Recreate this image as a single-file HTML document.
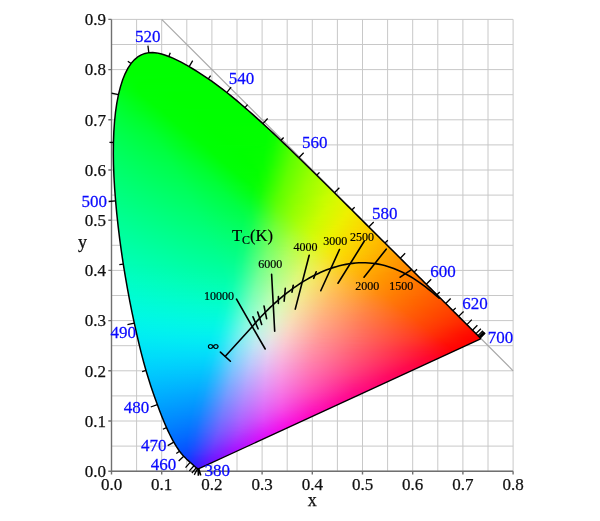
<!DOCTYPE html><html><head><meta charset="utf-8"><style>
*{margin:0;padding:0}
svg,#c{will-change:transform}
html,body{width:600px;height:521px;overflow:hidden;background:#fff}
#c{position:absolute;left:0;top:0;width:600px;height:521px;clip-path:path('M198.9 468.71 L198.89 468.71 L198.88 468.7 L198.88 468.7 L198.87 468.7 L198.85 468.7 L198.83 468.71 L198.81 468.72 L198.79 468.73 L198.77 468.73 L198.75 468.73 L198.72 468.73 L198.7 468.72 L198.67 468.72 L198.65 468.72 L198.63 468.73 L198.6 468.74 L198.58 468.76 L198.56 468.77 L198.54 468.78 L198.52 468.79 L198.49 468.8 L198.47 468.8 L198.43 468.8 L198.4 468.8 L198.36 468.8 L198.31 468.8 L198.27 468.8 L198.22 468.79 L198.18 468.79 L198.13 468.79 L198.09 468.79 L198.04 468.79 L197.99 468.79 L197.94 468.78 L197.89 468.77 L197.84 468.76 L197.78 468.75 L197.71 468.72 L197.64 468.68 L197.55 468.64 L197.45 468.58 L197.34 468.52 L197.23 468.45 L197.11 468.38 L196.99 468.29 L196.87 468.2 L196.73 468.1 L196.59 467.99 L196.44 467.87 L196.28 467.74 L196.1 467.59 L195.91 467.44 L195.71 467.27 L195.5 467.1 L195.28 466.91 L195.06 466.7 L194.82 466.48 L194.57 466.25 L194.31 466 L194.03 465.75 L193.74 465.48 L193.43 465.21 L193.1 464.91 L192.75 464.61 L192.37 464.28 L191.98 463.93 L191.55 463.55 L191.1 463.16 L190.63 462.75 L190.13 462.31 L189.61 461.86 L189.07 461.38 L188.51 460.88 L187.91 460.35 L187.29 459.78 L186.64 459.18 L185.97 458.53 L185.26 457.83 L184.53 457.08 L183.77 456.29 L182.99 455.44 L182.18 454.53 L181.34 453.53 L180.46 452.42 L179.52 451.18 L178.52 449.77 L177.45 448.17 L176.3 446.38 L175.08 444.38 L173.81 442.18 L172.48 439.78 L171.09 437.15 L169.64 434.26 L168.11 431.09 L166.52 427.61 L164.84 423.77 L163.09 419.56 L161.26 414.97 L159.34 409.98 L157.33 404.58 L155.22 398.75 L153.01 392.45 L150.71 385.65 L148.37 378.31 L145.99 370.44 L143.62 362.03 L141.28 353.1 L138.94 343.64 L136.62 333.65 L134.29 323.12 L131.96 312.08 L129.67 300.57 L127.44 288.67 L125.3 276.46 L123.28 264.02 L121.39 251.45 L119.67 238.8 L118.12 226.12 L116.76 213.47 L115.6 200.91 L114.65 188.54 L113.95 176.47 L113.5 164.76 L113.33 153.43 L113.44 142.48 L113.83 131.9 L114.52 121.75 L115.51 112.1 L116.82 103.03 L118.46 94.61 L120.42 86.86 L122.67 79.83 L125.19 73.56 L127.98 68.13 L131 63.57 L134.25 59.87 L137.69 56.97 L141.28 54.83 L144.99 53.4 L148.8 52.63 L152.69 52.49 L156.65 52.89 L160.67 53.74 L164.72 54.95 L168.81 56.44 L172.92 58.17 L177.03 60.1 L181.13 62.18 L185.18 64.38 L189.17 66.66 L193.09 68.98 L196.96 71.35 L200.78 73.77 L204.57 76.26 L208.32 78.82 L212.06 81.45 L215.76 84.13 L219.44 86.87 L223.11 89.67 L226.77 92.53 L230.42 95.44 L234.05 98.41 L237.68 101.42 L241.31 104.49 L244.92 107.59 L248.52 110.73 L252.12 113.91 L255.72 117.13 L259.31 120.38 L262.91 123.66 L266.5 126.97 L270.09 130.31 L273.68 133.67 L277.27 137.05 L280.86 140.46 L284.45 143.88 L288.04 147.32 L291.62 150.78 L295.21 154.25 L298.8 157.73 L302.38 161.21 L305.96 164.71 L309.54 168.21 L313.12 171.71 L316.69 175.22 L320.25 178.73 L323.81 182.23 L327.35 185.74 L330.89 189.24 L334.42 192.73 L337.93 196.22 L341.44 199.7 L344.92 203.17 L348.39 206.62 L351.84 210.06 L355.28 213.48 L358.69 216.88 L362.07 220.26 L365.43 223.61 L368.77 226.93 L372.07 230.23 L375.35 233.49 L378.6 236.72 L381.81 239.92 L384.98 243.07 L388.12 246.19 L391.21 249.27 L394.26 252.3 L397.27 255.29 L400.23 258.24 L403.14 261.14 L406 264 L408.8 266.79 L411.52 269.52 L414.17 272.16 L416.73 274.71 L419.21 277.18 L421.62 279.58 L423.97 281.92 L426.27 284.21 L428.52 286.45 L430.72 288.64 L432.86 290.77 L434.93 292.82 L436.91 294.8 L438.82 296.69 L440.65 298.5 L442.4 300.24 L444.09 301.92 L445.71 303.53 L447.27 305.08 L448.77 306.57 L450.21 308 L451.58 309.37 L452.9 310.69 L454.16 311.94 L455.36 313.14 L456.5 314.28 L457.59 315.37 L458.63 316.41 L459.63 317.4 L460.59 318.35 L461.5 319.26 L462.37 320.12 L463.2 320.95 L464 321.74 L464.76 322.5 L465.49 323.23 L466.19 323.93 L466.87 324.6 L467.53 325.26 L468.17 325.89 L468.79 326.51 L469.38 327.1 L469.94 327.66 L470.49 328.21 L471.01 328.73 L471.51 329.23 L471.99 329.71 L472.45 330.17 L472.9 330.61 L473.32 331.03 L473.72 331.43 L474.1 331.81 L474.46 332.17 L474.8 332.51 L475.11 332.82 L475.41 333.11 L475.68 333.39 L475.95 333.65 L476.2 333.9 L476.44 334.14 L476.67 334.37 L476.89 334.59 L477.09 334.79 L477.29 334.99 L477.47 335.17 L477.64 335.34 L477.8 335.5 L477.94 335.64 L478.08 335.78 L478.2 335.9 L478.31 336.01 L478.41 336.11 L478.51 336.21 L478.6 336.3 L478.7 336.4 L478.79 336.49 L478.88 336.58 L478.96 336.66 L479.04 336.74 L479.11 336.81 L479.19 336.89 L479.26 336.96 L479.32 337.02 L479.4 337.1 L479.47 337.17 L479.54 337.24 L479.61 337.31 L479.68 337.38 L479.74 337.44 L479.81 337.51 L479.87 337.57 L479.94 337.64 L479.99 337.69 L480.04 337.74 L480.08 337.78 L480.11 337.81 L480.14 337.84 L480.16 337.86 L480.19 337.89 L480.21 337.91 L480.23 337.93 L480.25 337.95 L480.27 337.97 L480.28 337.98 L480.29 337.99 L480.31 338.01 L480.31 338.01 L480.6 338.9 Z')}
#c i{position:absolute;height:1px;display:block}
svg{position:absolute;left:0;top:0}
.g line{stroke:#c8c8c8;stroke-width:1}
.d{stroke:#a8a8a8;stroke-width:1.2}
.sl{fill:none;stroke:#000;stroke-width:1.5;stroke-linejoin:round}
.pu{stroke-width:1.3}
.tk{fill:none;stroke:#000;stroke-width:1.3}
.pl{fill:none;stroke:#000;stroke-width:1.6;stroke-linecap:round}
text{font-family:'Liberation Serif',serif}
.ax{font-size:17px;fill:#111;stroke:#111;stroke-width:0.25}
.lab{font-size:18px}
.wl{font-size:17.7px;fill:#0a0aff;stroke:#0a0aff;stroke-width:0.25}
.il{font-size:12px;fill:#000;stroke:#000;stroke-width:0.2}
.tc{font-size:16.5px;fill:#000;stroke:#000;stroke-width:0.2}
.sub{font-size:12px}
.inf{font-size:15px;fill:#000;stroke:#000;stroke-width:0.5}
.axl{stroke:#707070;stroke-width:1.4;fill:none}
</style></head><body>
<svg width="600" height="521"><g class="g"><line x1="111.5" y1="19.4" x2="111.5" y2="471.2"/><line x1="136.6" y1="19.4" x2="136.6" y2="471.2"/><line x1="161.7" y1="19.4" x2="161.7" y2="471.2"/><line x1="186.8" y1="19.4" x2="186.8" y2="471.2"/><line x1="211.9" y1="19.4" x2="211.9" y2="471.2"/><line x1="237" y1="19.4" x2="237" y2="471.2"/><line x1="262.1" y1="19.4" x2="262.1" y2="471.2"/><line x1="287.2" y1="19.4" x2="287.2" y2="471.2"/><line x1="312.3" y1="19.4" x2="312.3" y2="471.2"/><line x1="337.4" y1="19.4" x2="337.4" y2="471.2"/><line x1="362.5" y1="19.4" x2="362.5" y2="471.2"/><line x1="387.6" y1="19.4" x2="387.6" y2="471.2"/><line x1="412.7" y1="19.4" x2="412.7" y2="471.2"/><line x1="437.8" y1="19.4" x2="437.8" y2="471.2"/><line x1="462.9" y1="19.4" x2="462.9" y2="471.2"/><line x1="488" y1="19.4" x2="488" y2="471.2"/><line x1="513.1" y1="19.4" x2="513.1" y2="471.2"/><line x1="111.5" y1="471.2" x2="513.1" y2="471.2"/><line x1="111.5" y1="446.1" x2="513.1" y2="446.1"/><line x1="111.5" y1="421" x2="513.1" y2="421"/><line x1="111.5" y1="395.9" x2="513.1" y2="395.9"/><line x1="111.5" y1="370.8" x2="513.1" y2="370.8"/><line x1="111.5" y1="345.7" x2="513.1" y2="345.7"/><line x1="111.5" y1="320.6" x2="513.1" y2="320.6"/><line x1="111.5" y1="295.5" x2="513.1" y2="295.5"/><line x1="111.5" y1="270.4" x2="513.1" y2="270.4"/><line x1="111.5" y1="245.3" x2="513.1" y2="245.3"/><line x1="111.5" y1="220.2" x2="513.1" y2="220.2"/><line x1="111.5" y1="195.1" x2="513.1" y2="195.1"/><line x1="111.5" y1="170" x2="513.1" y2="170"/><line x1="111.5" y1="144.9" x2="513.1" y2="144.9"/><line x1="111.5" y1="119.8" x2="513.1" y2="119.8"/><line x1="111.5" y1="94.7" x2="513.1" y2="94.7"/><line x1="111.5" y1="69.6" x2="513.1" y2="69.6"/><line x1="111.5" y1="44.5" x2="513.1" y2="44.5"/><line x1="111.5" y1="19.4" x2="513.1" y2="19.4"/></g><g class="d"><line x1="161.7" y1="19.4" x2="513.1" y2="370.8"/></g><path class="axl" d="M111.5 19.4L111.5 471.2M111.5 471.2L513.1 471.2M111.5 471.2h-3.2M111.5 421h-3.2M111.5 370.8h-3.2M111.5 320.6h-3.2M111.5 270.4h-3.2M111.5 220.2h-3.2M111.5 170h-3.2M111.5 119.8h-3.2M111.5 69.6h-3.2M111.5 19.4h-3.2M111.5 471.2v3.2M161.7 471.2v3.2M211.9 471.2v3.2M262.1 471.2v3.2M312.3 471.2v3.2M362.5 471.2v3.2M412.7 471.2v3.2M462.9 471.2v3.2M513.1 471.2v3.2"/></svg>
<div id="c"><i style="top:52px;left:151px;width:4px;background:linear-gradient(90deg,#00ff00 0.5px,#00ff00 3.5px)"></i><i style="top:53px;left:143px;width:19px;background:linear-gradient(90deg,#00ff00 0.5px,#00ff00 18.5px)"></i><i style="top:54px;left:141px;width:25px;background:linear-gradient(90deg,#00ff00 0.5px,#00ff00 24.5px)"></i><i style="top:55px;left:139px;width:30px;background:linear-gradient(90deg,#00ff00 0.5px,#00ff00 29.5px)"></i><i style="top:56px;left:137px;width:34px;background:linear-gradient(90deg,#00ff00 0.5px,#00ff00 33.5px)"></i><i style="top:57px;left:136px;width:38px;background:linear-gradient(90deg,#00ff00 0.5px,#00ff00 37.5px)"></i><i style="top:58px;left:134px;width:42px;background:linear-gradient(90deg,#00ff00 0.5px,#00ff00 41.5px)"></i><i style="top:59px;left:133px;width:45px;background:linear-gradient(90deg,#00ff00 0.5px,#00ff00 44.5px)"></i><i style="top:60px;left:132px;width:48px;background:linear-gradient(90deg,#00ff00 0.5px,#00ff00 47.5px)"></i><i style="top:61px;left:131px;width:51px;background:linear-gradient(90deg,#00ff00 0.5px,#00ff00 50.5px)"></i><i style="top:62px;left:130px;width:54px;background:linear-gradient(90deg,#00ff00 0.5px,#00ff00 53.5px)"></i><i style="top:63px;left:130px;width:56px;background:linear-gradient(90deg,#00ff00 0.5px,#00ff00 55.5px)"></i><i style="top:64px;left:129px;width:59px;background:linear-gradient(90deg,#00ff00 0.5px,#00ff00 58.5px)"></i><i style="top:65px;left:128px;width:62px;background:linear-gradient(90deg,#00ff00 0.5px,#00ff00 61.5px)"></i><i style="top:66px;left:128px;width:63px;background:linear-gradient(90deg,#00ff00 0.5px,#00ff00 62.5px)"></i><i style="top:67px;left:127px;width:66px;background:linear-gradient(90deg,#00ff00 0.5px,#00ff00 65.5px)"></i><i style="top:68px;left:126px;width:69px;background:linear-gradient(90deg,#00ff00 0.5px,#00ff00 68.5px)"></i><i style="top:69px;left:126px;width:70px;background:linear-gradient(90deg,#00ff00 0.5px,#00ff00 69.5px)"></i><i style="top:70px;left:125px;width:73px;background:linear-gradient(90deg,#00ff01 0.5px,#00ff00 72.5px)"></i><i style="top:71px;left:125px;width:75px;background:linear-gradient(90deg,#00ff01 0.5px,#00ff00 74.5px)"></i><i style="top:72px;left:124px;width:77px;background:linear-gradient(90deg,#00ff01 0.5px,#00ff00 76.5px)"></i><i style="top:73px;left:124px;width:79px;background:linear-gradient(90deg,#00ff01 0.5px,#00ff00 78.5px)"></i><i style="top:74px;left:123px;width:81px;background:linear-gradient(90deg,#00ff02 0.5px,#00ff00 80.5px)"></i><i style="top:75px;left:123px;width:83px;background:linear-gradient(90deg,#00ff02 0.5px,#00ff00 82.5px)"></i><i style="top:76px;left:123px;width:84px;background:linear-gradient(90deg,#00ff03 0.5px,#00ff00 83.5px)"></i><i style="top:77px;left:122px;width:87px;background:linear-gradient(90deg,#00ff04 0.5px,#00ff00 52.5px,#00ff00 86.5px)"></i><i style="top:78px;left:122px;width:88px;background:linear-gradient(90deg,#00ff05 0.5px,#00ff00 39.5px,#00ff00 87.5px)"></i><i style="top:79px;left:121px;width:91px;background:linear-gradient(90deg,#00ff06 0.5px,#00ff00 29.5px,#00ff00 90.5px)"></i><i style="top:80px;left:121px;width:92px;background:linear-gradient(90deg,#00ff07 0.5px,#00ff00 26.5px,#00ff00 91.5px)"></i><i style="top:81px;left:121px;width:94px;background:linear-gradient(90deg,#00ff08 0.5px,#00ff00 24.5px,#00ff00 93.5px)"></i><i style="top:82px;left:120px;width:96px;background:linear-gradient(90deg,#00ff0a 0.5px,#00ff00 21.5px,#00ff00 95.5px)"></i><i style="top:83px;left:120px;width:97px;background:linear-gradient(90deg,#00ff0b 0.5px,#00ff01 20.5px,#00ff00 96.5px)"></i><i style="top:84px;left:120px;width:99px;background:linear-gradient(90deg,#00ff0d 0.5px,#00ff01 20.5px,#00ff00 98.5px)"></i><i style="top:85px;left:119px;width:101px;background:linear-gradient(90deg,#00ff0f 0.5px,#00ff02 19.5px,#00ff00 100.5px)"></i><i style="top:86px;left:119px;width:102px;background:linear-gradient(90deg,#00ff11 0.5px,#00ff02 19.5px,#00ff00 101.5px)"></i><i style="top:87px;left:119px;width:104px;background:linear-gradient(90deg,#00ff12 0.5px,#00ff02 19.5px,#00ff00 103.5px)"></i><i style="top:88px;left:119px;width:105px;background:linear-gradient(90deg,#00ff14 0.5px,#00ff02 20.5px,#00ff00 104.5px)"></i><i style="top:89px;left:118px;width:107px;background:linear-gradient(90deg,#00ff17 0.5px,#00ff03 20.5px,#00ff00 97.5px,#00ff00 106.5px)"></i><i style="top:90px;left:118px;width:109px;background:linear-gradient(90deg,#00ff18 0.5px,#00ff04 21.5px,#00ff00 90.5px,#00ff00 108.5px)"></i><i style="top:91px;left:118px;width:110px;background:linear-gradient(90deg,#00ff1a 0.5px,#00ff04 21.5px,#00ff00 68.5px,#00ff00 109.5px)"></i><i style="top:92px;left:117px;width:112px;background:linear-gradient(90deg,#00ff1d 0.5px,#00ff05 22.5px,#00ff00 58.5px,#00ff00 111.5px)"></i><i style="top:93px;left:117px;width:113px;background:linear-gradient(90deg,#00ff1f 0.5px,#00ff05 23.5px,#00ff00 58.5px,#00ff00 112.5px)"></i><i style="top:94px;left:117px;width:115px;background:linear-gradient(90deg,#00ff20 0.5px,#00ff05 24.5px,#00ff00 57.5px,#00ff00 114.5px)"></i><i style="top:95px;left:117px;width:116px;background:linear-gradient(90deg,#00ff22 0.5px,#00ff05 25.5px,#00ff00 57.5px,#00ff00 115.5px)"></i><i style="top:96px;left:117px;width:117px;background:linear-gradient(90deg,#00ff24 0.5px,#00ff05 26.5px,#00ff00 57.5px,#00ff00 116.5px)"></i><i style="top:97px;left:116px;width:119px;background:linear-gradient(90deg,#00ff26 0.5px,#00ff06 28.5px,#00ff00 58.5px,#00ff00 118.5px)"></i><i style="top:98px;left:116px;width:121px;background:linear-gradient(90deg,#00ff28 0.5px,#00ff06 29.5px,#00ff00 59.5px,#00ff00 120.5px)"></i><i style="top:99px;left:116px;width:122px;background:linear-gradient(90deg,#00ff2a 0.5px,#00ff05 31.5px,#00ff00 63.5px,#00ff00 121.5px)"></i><i style="top:100px;left:116px;width:123px;background:linear-gradient(90deg,#00ff2b 0.5px,#00ff05 32.5px,#00ff00 63.5px,#00ff00 122.5px)"></i><i style="top:101px;left:116px;width:124px;background:linear-gradient(90deg,#00ff2c 0.5px,#00ff06 33.5px,#00ff00 63.5px,#00ff00 123.5px)"></i><i style="top:102px;left:115px;width:126px;background:linear-gradient(90deg,#00ff2f 0.5px,#00ff05 36.5px,#00ff00 70.5px,#00ff00 125.5px)"></i><i style="top:103px;left:115px;width:128px;background:linear-gradient(90deg,#00ff30 0.5px,#00ff05 37.5px,#00ff00 69.5px,#00ff00 127.5px)"></i><i style="top:104px;left:115px;width:129px;background:linear-gradient(90deg,#00ff31 0.5px,#00ff05 38.5px,#00ff00 69.5px,#00ff00 128.5px)"></i><i style="top:105px;left:115px;width:130px;background:linear-gradient(90deg,#00ff33 0.5px,#00ff05 40.5px,#00ff00 75.5px,#00ff00 129.5px)"></i><i style="top:106px;left:115px;width:131px;background:linear-gradient(90deg,#00ff34 0.5px,#00ff05 41.5px,#00ff00 75.5px,#00ff00 130.5px)"></i><i style="top:107px;left:115px;width:132px;background:linear-gradient(90deg,#00ff35 0.5px,#00ff05 42.5px,#00ff00 74.5px,#00ff00 131.5px)"></i><i style="top:108px;left:115px;width:133px;background:linear-gradient(90deg,#00ff36 0.5px,#00ff05 44.5px,#00ff00 80.5px,#00ff00 132.5px)"></i><i style="top:109px;left:114px;width:136px;background:linear-gradient(90deg,#00ff38 0.5px,#00ff17 29.5px,#00ff03 49.5px,#00ff00 131.5px,#00ff00 135.5px)"></i><i style="top:110px;left:114px;width:137px;background:linear-gradient(90deg,#00ff3a 0.5px,#00ff19 29.5px,#00ff04 49.5px,#00ff00 100.5px,#00ff00 136.5px)"></i><i style="top:111px;left:114px;width:138px;background:linear-gradient(90deg,#00ff3b 0.5px,#00ff1c 28.5px,#00ff05 49.5px,#00ff00 87.5px,#00ff00 137.5px)"></i><i style="top:112px;left:114px;width:139px;background:linear-gradient(90deg,#00ff3c 0.5px,#00ff1e 28.5px,#00ff05 50.5px,#00ff00 86.5px,#00ff00 138.5px)"></i><i style="top:113px;left:114px;width:140px;background:linear-gradient(90deg,#00ff3d 0.5px,#00ff1f 28.5px,#00ff05 51.5px,#00ff00 86.5px,#00ff00 139.5px)"></i><i style="top:114px;left:114px;width:141px;background:linear-gradient(90deg,#00ff3e 0.5px,#00ff20 29.5px,#00ff05 52.5px,#00ff00 86.5px,#00ff00 140.5px)"></i><i style="top:115px;left:114px;width:142px;background:linear-gradient(90deg,#00ff3f 0.5px,#00ff22 29.5px,#00ff05 53.5px,#00ff00 85.5px,#00ff00 141.5px)"></i><i style="top:116px;left:114px;width:144px;background:linear-gradient(90deg,#00ff40 0.5px,#00ff23 29.5px,#00ff05 54.5px,#00ff00 85.5px,#00ff00 143.5px)"></i><i style="top:117px;left:113px;width:146px;background:linear-gradient(90deg,#00ff42 0.5px,#00ff25 30.5px,#00ff06 56.5px,#00ff00 86.5px,#00ff00 145.5px)"></i><i style="top:118px;left:113px;width:147px;background:linear-gradient(90deg,#00ff43 0.5px,#00ff27 30.5px,#00ff06 57.5px,#00ff00 87.5px,#00ff00 146.5px)"></i><i style="top:119px;left:113px;width:148px;background:linear-gradient(90deg,#00ff44 0.5px,#00ff27 31.5px,#00ff06 58.5px,#00ff00 87.5px,#00ff00 147.5px)"></i><i style="top:120px;left:113px;width:149px;background:linear-gradient(90deg,#00ff45 0.5px,#00ff27 32.5px,#00ff06 59.5px,#00ff00 87.5px,#00ff00 148.5px)"></i><i style="top:121px;left:113px;width:150px;background:linear-gradient(90deg,#00ff45 0.5px,#00ff29 32.5px,#00ff06 60.5px,#00ff00 87.5px,#00ff00 149.5px)"></i><i style="top:122px;left:113px;width:151px;background:linear-gradient(90deg,#00ff46 0.5px,#00ff29 33.5px,#00ff06 62.5px,#00ff00 91.5px,#00ff00 150.5px)"></i><i style="top:123px;left:113px;width:152px;background:linear-gradient(90deg,#00ff47 0.5px,#00ff2b 33.5px,#00ff06 63.5px,#00ff00 92.5px,#01ff00 151.5px)"></i><i style="top:124px;left:113px;width:153px;background:linear-gradient(90deg,#00ff48 0.5px,#00ff2b 34.5px,#00ff06 64.5px,#00ff00 92.5px,#01ff00 152.5px)"></i><i style="top:125px;left:113px;width:154px;background:linear-gradient(90deg,#00ff49 0.5px,#00ff2c 35.5px,#00ff06 65.5px,#00ff00 92.5px,#01ff00 153.5px)"></i><i style="top:126px;left:113px;width:155px;background:linear-gradient(90deg,#00ff4a 0.5px,#00ff2d 35.5px,#00ff06 66.5px,#00ff00 93.5px,#02ff00 154.5px)"></i><i style="top:127px;left:113px;width:157px;background:linear-gradient(90deg,#00ff4b 0.5px,#00ff2e 36.5px,#00ff06 68.5px,#00ff00 97.5px,#03ff00 155.5px,#03ff00 156.5px)"></i><i style="top:128px;left:113px;width:158px;background:linear-gradient(90deg,#00ff4c 0.5px,#00ff2f 36.5px,#00ff06 69.5px,#00ff00 97.5px,#03ff00 155.5px,#04ff00 157.5px)"></i><i style="top:129px;left:112px;width:160px;background:linear-gradient(90deg,#00ff4d 0.5px,#00ff30 38.5px,#00ff06 71.5px,#00ff00 98.5px,#03ff00 156.5px,#06ff00 159.5px)"></i><i style="top:130px;left:112px;width:161px;background:linear-gradient(90deg,#00ff4e 0.5px,#00ff31 38.5px,#00ff06 73.5px,#00ff00 102.5px,#03ff00 156.5px,#08ff00 160.5px)"></i><i style="top:131px;left:112px;width:162px;background:linear-gradient(90deg,#00ff4f 0.5px,#00ff31 39.5px,#00ff06 74.5px,#00ff00 103.5px,#03ff00 155.5px,#0aff00 161.5px)"></i><i style="top:132px;left:112px;width:163px;background:linear-gradient(90deg,#00ff50 0.5px,#00ff32 40.5px,#00ff06 75.5px,#00ff00 103.5px,#03ff00 155.5px,#0cff00 162.5px)"></i><i style="top:133px;left:112px;width:164px;background:linear-gradient(90deg,#00ff51 0.5px,#00ff33 40.5px,#00ff06 76.5px,#00ff00 103.5px,#03ff00 155.5px,#0fff00 163.5px)"></i><i style="top:134px;left:112px;width:165px;background:linear-gradient(90deg,#00ff52 0.5px,#00ff34 41.5px,#00ff06 78.5px,#00ff00 107.5px,#03ff00 155.5px,#12ff00 164.5px)"></i><i style="top:135px;left:112px;width:166px;background:linear-gradient(90deg,#00ff53 0.5px,#00ff34 42.5px,#00ff06 79.5px,#00ff00 108.5px,#03ff00 154.5px,#10ff00 163.5px,#16ff00 165.5px)"></i><i style="top:136px;left:112px;width:167px;background:linear-gradient(90deg,#00ff54 0.5px,#00ff35 42.5px,#00ff06 80.5px,#00ff00 108.5px,#03ff00 154.5px,#11ff00 163.5px,#1aff00 166.5px)"></i><i style="top:137px;left:112px;width:168px;background:linear-gradient(90deg,#00ff54 0.5px,#00ff36 43.5px,#00ff06 81.5px,#00ff00 108.5px,#03ff00 154.5px,#12ff00 163.5px,#1eff00 167.5px)"></i><i style="top:138px;left:112px;width:169px;background:linear-gradient(90deg,#00ff55 0.5px,#00ff36 44.5px,#00ff06 83.5px,#00ff00 112.5px,#03ff00 154.5px,#13ff00 163.5px,#23ff00 168.5px)"></i><i style="top:139px;left:112px;width:170px;background:linear-gradient(90deg,#00ff56 0.5px,#00ff37 44.5px,#00ff06 84.5px,#00ff00 112.5px,#03ff00 154.5px,#13ff00 163.5px,#27ff00 169.5px)"></i><i style="top:140px;left:112px;width:171px;background:linear-gradient(90deg,#00ff57 0.5px,#00ff38 45.5px,#00ff06 85.5px,#00ff00 113.5px,#03ff00 153.5px,#11ff00 162.5px,#2cff00 170.5px)"></i><i style="top:141px;left:112px;width:172px;background:linear-gradient(90deg,#00ff58 0.5px,#00ff38 46.5px,#00ff06 87.5px,#00ff00 117.5px,#03ff00 153.5px,#12ff00 162.5px,#31ff00 171.5px)"></i><i style="top:142px;left:112px;width:173px;background:linear-gradient(90deg,#00ff59 0.5px,#00ff39 46.5px,#00ff06 88.5px,#00ff00 117.5px,#03ff00 153.5px,#13ff00 162.5px,#36ff00 172.5px)"></i><i style="top:143px;left:112px;width:175px;background:linear-gradient(90deg,#00ff59 0.5px,#00ff3a 47.5px,#00ff06 89.5px,#00ff00 117.5px,#04ff00 153.5px,#14ff00 162.5px,#3fff00 174.5px)"></i><i style="top:144px;left:112px;width:176px;background:linear-gradient(90deg,#00ff5a 0.5px,#00ff3a 48.5px,#00ff06 90.5px,#00ff00 118.5px,#03ff00 152.5px,#12ff00 161.5px,#43ff00 175.5px)"></i><i style="top:145px;left:112px;width:177px;background:linear-gradient(90deg,#00ff5b 0.5px,#00ff3b 48.5px,#00ff16 77.5px,#00ff04 95.5px,#03ff00 152.5px,#12ff00 161.5px,#48ff00 176.5px)"></i><i style="top:146px;left:112px;width:178px;background:linear-gradient(90deg,#00ff5c 0.5px,#00ff3c 49.5px,#00ff18 77.5px,#00ff04 96.5px,#01ff00 148.5px,#0cff00 158.5px,#2bff00 168.5px,#4cff00 177.5px)"></i><i style="top:147px;left:112px;width:179px;background:linear-gradient(90deg,#00ff5d 0.5px,#00ff3c 50.5px,#00ff19 78.5px,#00ff04 97.5px,#01ff00 146.5px,#0aff00 157.5px,#28ff00 167.5px,#51ff00 178.5px)"></i><i style="top:148px;left:112px;width:180px;background:linear-gradient(90deg,#00ff5d 0.5px,#00ff3d 50.5px,#00ff1c 77.5px,#00ff05 97.5px,#00ff00 134.5px,#05ff00 153.5px,#18ff00 162.5px,#55ff00 179.5px)"></i><i style="top:149px;left:112px;width:181px;background:linear-gradient(90deg,#00ff5e 0.5px,#00ff3e 51.5px,#00ff1c 78.5px,#00ff05 98.5px,#00ff00 133.5px,#04ff00 152.5px,#16ff00 161.5px,#59ff00 180.5px)"></i><i style="top:150px;left:112px;width:182px;background:linear-gradient(90deg,#00ff5f 0.5px,#00ff3e 52.5px,#00ff1d 79.5px,#00ff05 99.5px,#00ff00 133.5px,#04ff00 152.5px,#16ff00 161.5px,#5dff00 181.5px)"></i><i style="top:151px;left:112px;width:183px;background:linear-gradient(90deg,#00ff60 0.5px,#00ff3f 52.5px,#00ff1f 79.5px,#00ff06 99.5px,#00ff00 127.5px,#04ff00 151.5px,#14ff00 160.5px,#5eff00 181.5px,#60ff00 182.5px)"></i><i style="top:152px;left:112px;width:184px;background:linear-gradient(90deg,#00ff61 0.5px,#00ff40 53.5px,#00ff1f 80.5px,#00ff05 101.5px,#00ff00 132.5px,#05ff00 152.5px,#18ff00 161.5px,#5fff00 181.5px,#64ff00 183.5px)"></i><i style="top:153px;left:112px;width:185px;background:linear-gradient(90deg,#00ff61 0.5px,#00ff41 53.5px,#00ff21 80.5px,#00ff06 101.5px,#00ff00 128.5px,#04ff00 151.5px,#16ff00 160.5px,#5fff00 181.5px,#68ff00 184.5px)"></i><i style="top:154px;left:112px;width:186px;background:linear-gradient(90deg,#00ff62 0.5px,#00ff41 54.5px,#00ff22 81.5px,#00ff06 102.5px,#00ff00 128.5px,#05ff00 151.5px,#17ff00 160.5px,#5eff00 180.5px,#6bff00 185.5px)"></i><i style="top:155px;left:112px;width:187px;background:linear-gradient(90deg,#00ff63 0.5px,#00ff42 55.5px,#00ff22 82.5px,#00ff06 104.5px,#00ff00 132.5px,#05ff00 151.5px,#18ff00 160.5px,#5eff00 180.5px,#6eff00 186.5px)"></i><i style="top:156px;left:112px;width:188px;background:linear-gradient(90deg,#00ff64 0.5px,#00ff43 55.5px,#00ff24 82.5px,#00ff07 104.5px,#00ff00 129.5px,#04ff00 150.5px,#16ff00 159.5px,#5fff00 180.5px,#71ff00 187.5px)"></i><i style="top:157px;left:112px;width:189px;background:linear-gradient(90deg,#00ff65 0.5px,#00ff43 56.5px,#00ff24 83.5px,#00ff06 106.5px,#00ff00 133.5px,#05ff00 151.5px,#1aff00 160.5px,#5dff00 179.5px,#75ff00 188.5px)"></i><i style="top:158px;left:112px;width:190px;background:linear-gradient(90deg,#00ff65 0.5px,#00ff44 56.5px,#00ff26 83.5px,#00ff06 107.5px,#00ff00 133.5px,#05ff00 150.5px,#17ff00 159.5px,#5eff00 179.5px,#78ff00 189.5px)"></i><i style="top:159px;left:112px;width:191px;background:linear-gradient(90deg,#00ff66 0.5px,#00ff45 57.5px,#00ff27 84.5px,#00ff07 108.5px,#00ff00 133.5px,#05ff00 150.5px,#18ff00 159.5px,#5fff00 179.5px,#7bff00 190.5px)"></i><i style="top:160px;left:112px;width:192px;background:linear-gradient(90deg,#00ff67 0.5px,#00ff45 58.5px,#00ff27 85.5px,#00ff07 109.5px,#00ff00 134.5px,#05ff00 150.5px,#19ff00 159.5px,#5dff00 178.5px,#7eff00 191.5px)"></i><i style="top:161px;left:112px;width:193px;background:linear-gradient(90deg,#00ff68 0.5px,#00ff46 58.5px,#00ff29 85.5px,#00ff07 110.5px,#00ff00 134.5px,#06ff00 150.5px,#1aff00 159.5px,#5eff00 178.5px,#81ff00 192.5px)"></i><i style="top:162px;left:112px;width:194px;background:linear-gradient(90deg,#00ff69 0.5px,#00ff47 59.5px,#00ff28 87.5px,#00ff07 111.5px,#00ff00 135.5px,#06ff00 150.5px,#1bff00 159.5px,#5fff00 178.5px,#84ff00 193.5px)"></i><i style="top:163px;left:112px;width:195px;background:linear-gradient(90deg,#00ff69 0.5px,#00ff48 59.5px,#00ff2a 87.5px,#00ff07 112.5px,#00ff00 135.5px,#06ff00 150.5px,#1cff00 159.5px,#5dff00 177.5px,#87ff00 194.5px)"></i><i style="top:164px;left:112px;width:196px;background:linear-gradient(90deg,#00ff6a 0.5px,#00ff48 60.5px,#00ff2a 88.5px,#00ff07 114.5px,#00ff00 139.5px,#08ff00 151.5px,#20ff00 160.5px,#5eff00 177.5px,#8aff00 195.5px)"></i><i style="top:165px;left:112px;width:197px;background:linear-gradient(90deg,#00ff6b 0.5px,#00ff49 60.5px,#00ff2c 88.5px,#00ff07 115.5px,#00ff00 139.5px,#09ff00 151.5px,#21ff00 160.5px,#5fff00 177.5px,#8cff00 196.5px)"></i><i style="top:166px;left:112px;width:198px;background:linear-gradient(90deg,#00ff6c 0.5px,#00ff4a 61.5px,#00ff2b 90.5px,#00ff07 116.5px,#01ff00 140.5px,#09ff00 151.5px,#23ff00 160.5px,#5dff00 176.5px,#8dff00 196.5px,#8fff00 197.5px)"></i><i style="top:167px;left:112px;width:199px;background:linear-gradient(90deg,#00ff6c 0.5px,#00ff4b 61.5px,#00ff2d 90.5px,#00ff07 117.5px,#01ff00 140.5px,#0aff00 151.5px,#24ff00 160.5px,#5eff00 176.5px,#90ff00 197.5px,#92ff00 198.5px)"></i><i style="top:168px;left:112px;width:200px;background:linear-gradient(90deg,#00ff6d 0.5px,#00ff4b 62.5px,#00ff2e 91.5px,#00ff08 118.5px,#01ff00 141.5px,#0aff00 151.5px,#25ff00 160.5px,#5fff00 176.5px,#91ff00 197.5px,#95ff00 199.5px)"></i><i style="top:169px;left:112px;width:201px;background:linear-gradient(90deg,#00ff6e 0.5px,#00ff4c 62.5px,#00ff2e 92.5px,#00ff07 120.5px,#02ff00 144.5px,#0fff00 153.5px,#3aff00 165.5px,#69ff00 179.5px,#98ff00 200.5px)"></i><i style="top:170px;left:112px;width:202px;background:linear-gradient(90deg,#00ff6f 0.5px,#00ff4d 63.5px,#00ff2f 93.5px,#00ff07 121.5px,#03ff00 145.5px,#12ff00 154.5px,#61ff00 176.5px,#94ff00 198.5px,#9aff00 201.5px)"></i><i style="top:171px;left:112px;width:203px;background:linear-gradient(90deg,#00ff70 0.5px,#00ff4e 63.5px,#00ff30 93.5px,#00ff08 122.5px,#03ff00 145.5px,#13ff00 154.5px,#62ff00 176.5px,#95ff00 198.5px,#9dff00 202.5px)"></i><i style="top:172px;left:112px;width:204px;background:linear-gradient(90deg,#00ff70 0.5px,#00ff4e 64.5px,#00ff31 94.5px,#00ff08 123.5px,#05ff00 146.5px,#17ff00 155.5px,#60ff00 175.5px,#92ff00 196.5px,#a0ff00 203.5px)"></i><i style="top:173px;left:112px;width:205px;background:linear-gradient(90deg,#00ff71 0.5px,#00ff4e 65.5px,#00ff31 95.5px,#00ff08 124.5px,#04ff00 145.5px,#15ff00 154.5px,#61ff00 175.5px,#93ff00 196.5px,#a2ff00 204.5px)"></i><i style="top:174px;left:112px;width:206px;background:linear-gradient(90deg,#00ff72 0.5px,#00ff50 65.5px,#00ff32 96.5px,#00ff07 126.5px,#04ff00 145.5px,#16ff00 154.5px,#62ff00 175.5px,#96ff00 197.5px,#a5ff00 205.5px)"></i><i style="top:175px;left:112px;width:207px;background:linear-gradient(90deg,#00ff73 0.5px,#00ff50 66.5px,#00ff32 97.5px,#00ff08 127.5px,#04ff00 145.5px,#17ff00 154.5px,#63ff00 175.5px,#96ff00 197.5px,#a8ff00 206.5px)"></i><i style="top:176px;left:112px;width:208px;background:linear-gradient(90deg,#00ff73 0.5px,#00ff51 66.5px,#00ff33 98.5px,#00ff08 128.5px,#05ff01 145.5px,#18ff00 154.5px,#61ff00 174.5px,#93ff00 195.5px,#aaff00 207.5px)"></i><i style="top:177px;left:113px;width:209px;background:linear-gradient(90deg,#00ff74 0.5px,#00ff51 66.5px,#00ff33 98.5px,#00ff08 128.5px,#05ff01 144.5px,#18ff00 153.5px,#62ff00 173.5px,#94ff00 194.5px,#afff00 208.5px)"></i><i style="top:178px;left:113px;width:210px;background:linear-gradient(90deg,#00ff75 0.5px,#00ff52 67.5px,#00ff33 99.5px,#00ff07 130.5px,#07ff01 145.5px,#1dff00 154.5px,#60ff00 172.5px,#93ff00 193.5px,#b1ff00 209.5px)"></i><i style="top:179px;left:113px;width:211px;background:linear-gradient(90deg,#00ff75 0.5px,#00ff53 67.5px,#00ff35 99.5px,#00ff08 131.5px,#07ff01 145.5px,#1eff00 154.5px,#61ff00 172.5px,#94ff00 193.5px,#b4fe00 210.5px)"></i><i style="top:180px;left:113px;width:212px;background:linear-gradient(90deg,#00ff76 0.5px,#00ff53 68.5px,#00ff34 101.5px,#00ff08 132.5px,#07ff01 145.5px,#1fff00 154.5px,#62ff00 172.5px,#94ff00 193.5px,#b6fe00 211.5px)"></i><i style="top:181px;left:113px;width:213px;background:linear-gradient(90deg,#00ff77 0.5px,#00ff54 68.5px,#00ff36 101.5px,#00ff08 133.5px,#08ff01 145.5px,#20ff00 154.5px,#60ff00 171.5px,#91ff00 191.5px,#b9fe00 212.5px)"></i><i style="top:182px;left:113px;width:214px;background:linear-gradient(90deg,#00ff78 0.5px,#00ff55 68.5px,#00ff37 102.5px,#01ff07 135.5px,#0aff02 146.5px,#25ff00 155.5px,#61ff00 171.5px,#94ff00 192.5px,#bcfe00 213.5px)"></i><i style="top:183px;left:113px;width:215px;background:linear-gradient(90deg,#00ff78 0.5px,#00ff56 69.5px,#00ff37 103.5px,#01ff08 136.5px,#0bff02 146.5px,#26ff00 155.5px,#62ff00 171.5px,#95ff00 192.5px,#befe00 214.5px)"></i><i style="top:184px;left:113px;width:216px;background:linear-gradient(90deg,#00ff79 0.5px,#00ff57 69.5px,#00ff39 103.5px,#01ff08 137.5px,#0dff02 147.5px,#2fff00 157.5px,#63ff00 171.5px,#96ff00 192.5px,#c1fe00 215.5px)"></i><i style="top:185px;left:113px;width:217px;background:linear-gradient(90deg,#00ff7a 0.5px,#00ff57 70.5px,#00ff38 105.5px,#02ff08 138.5px,#0eff02 147.5px,#30ff00 157.5px,#64ff00 171.5px,#97ff00 192.5px,#c3fe00 216.5px)"></i><i style="top:186px;left:113px;width:218px;background:linear-gradient(90deg,#00ff7b 0.5px,#00ff58 70.5px,#00ff3a 105.5px,#04ff07 140.5px,#14ff02 149.5px,#65ff00 171.5px,#9aff00 193.5px,#c5fd00 217.5px)"></i><i style="top:187px;left:113px;width:219px;background:linear-gradient(90deg,#00ff7b 0.5px,#00ff59 71.5px,#00ff3a 106.5px,#04ff08 140.5px,#15ff03 149.5px,#63ff00 170.5px,#96ff00 191.5px,#c8fd00 218.5px)"></i><i style="top:188px;left:113px;width:220px;background:linear-gradient(90deg,#00ff7c 0.5px,#00ff5a 71.5px,#00ff3b 107.5px,#03ff0b 139.5px,#13ff04 148.5px,#67ff00 171.5px,#9bff00 193.5px,#cafd00 219.5px)"></i><i style="top:189px;left:113px;width:221px;background:linear-gradient(90deg,#00ff7d 0.5px,#00ff5a 72.5px,#00ff3b 108.5px,#03ff0c 139.5px,#13ff04 148.5px,#65ff00 170.5px,#98ff00 191.5px,#cdfd00 220.5px)"></i><i style="top:190px;left:113px;width:222px;background:linear-gradient(90deg,#00ff7e 0.5px,#00ff5b 72.5px,#00ff3b 109.5px,#04ff0e 139.5px,#14ff05 148.5px,#66ff00 170.5px,#9bff00 192.5px,#cffc00 221.5px)"></i><i style="top:191px;left:113px;width:223px;background:linear-gradient(90deg,#00ff7f 0.5px,#00ff5c 73.5px,#00ff3c 110.5px,#04ff10 139.5px,#15ff06 148.5px,#64ff00 169.5px,#98ff00 190.5px,#d1fc00 222.5px)"></i><i style="top:192px;left:113px;width:224px;background:linear-gradient(90deg,#00ff7f 0.5px,#00ff5d 73.5px,#00ff3e 110.5px,#03ff13 138.5px,#13ff08 147.5px,#65ff00 169.5px,#98ff00 190.5px,#d4fc00 223.5px)"></i><i style="top:193px;left:114px;width:224px;background:linear-gradient(90deg,#00ff80 0.5px,#00ff5d 73.5px,#00ff3e 110.5px,#03ff15 137.5px,#14ff09 146.5px,#60ff00 166.5px,#91ff00 185.5px,#cefc00 218.5px,#d6fb00 223.5px)"></i><i style="top:194px;left:114px;width:225px;background:linear-gradient(90deg,#00ff81 0.5px,#00ff5e 74.5px,#00ff3f 111.5px,#04ff17 137.5px,#15ff0a 146.5px,#5dff01 165.5px,#8dff00 183.5px,#ccfd00 216.5px,#d8fb00 224.5px)"></i><i style="top:195px;left:114px;width:226px;background:linear-gradient(90deg,#00ff81 0.5px,#00ff5f 74.5px,#00ff3f 112.5px,#04ff19 137.5px,#16ff0c 146.5px,#5bff01 164.5px,#8aff00 181.5px,#c8fd00 213.5px,#dafa00 225.5px)"></i><i style="top:196px;left:114px;width:227px;background:linear-gradient(90deg,#00ff82 0.5px,#00ff60 74.5px,#00ff3f 113.5px,#04ff1b 137.5px,#13ff0f 145.5px,#55ff02 162.5px,#83ff00 178.5px,#c2fe00 209.5px,#dcfa00 226.5px)"></i><i style="top:197px;left:114px;width:228px;background:linear-gradient(90deg,#00ff83 0.5px,#00ff60 75.5px,#00ff40 114.5px,#04ff1d 137.5px,#14ff10 145.5px,#56ff02 162.5px,#84ff00 178.5px,#c3fe00 209.5px,#def900 227.5px)"></i><i style="top:198px;left:114px;width:229px;background:linear-gradient(90deg,#00ff84 0.5px,#00ff61 75.5px,#00ff42 114.5px,#04ff21 136.5px,#15ff12 145.5px,#57ff02 162.5px,#85ff00 178.5px,#c4fe00 209.5px,#e0f800 228.5px)"></i><i style="top:199px;left:114px;width:230px;background:linear-gradient(90deg,#00ff84 0.5px,#00ff62 76.5px,#00ff41 116.5px,#04ff23 136.5px,#13ff16 144.5px,#55ff03 161.5px,#84ff00 177.5px,#c3fe00 208.5px,#e2f700 229.5px)"></i><i style="top:200px;left:114px;width:231px;background:linear-gradient(90deg,#00ff85 0.5px,#00ff63 76.5px,#00ff42 116.5px,#04ff26 136.5px,#14ff18 144.5px,#56ff04 161.5px,#85ff00 177.5px,#c4fe00 208.5px,#e4f700 230.5px)"></i><i style="top:201px;left:114px;width:232px;background:linear-gradient(90deg,#00ff86 0.5px,#00ff63 77.5px,#00ff43 117.5px,#05ff28 136.5px,#15ff1a 144.5px,#57ff05 161.5px,#86ff00 177.5px,#c5fd00 208.5px,#e6f600 231.5px)"></i><i style="top:202px;left:114px;width:233px;background:linear-gradient(90deg,#00ff87 0.5px,#00ff64 77.5px,#00ff43 118.5px,#05ff2a 136.5px,#16ff1c 144.5px,#58ff06 161.5px,#86ff00 177.5px,#c5fd00 208.5px,#e8f500 232.5px)"></i><i style="top:203px;left:114px;width:234px;background:linear-gradient(90deg,#00ff87 0.5px,#00ff65 77.5px,#00ff45 118.5px,#05ff2c 136.5px,#16ff1e 144.5px,#5dff06 162.5px,#8cff00 179.5px,#cafd00 210.5px,#e9f400 233.5px)"></i><i style="top:204px;left:114px;width:235px;background:linear-gradient(90deg,#00ff88 0.5px,#00ff66 78.5px,#00ff45 119.5px,#06ff2e 136.5px,#17ff21 144.5px,#5eff07 162.5px,#8fff00 180.5px,#ccfd00 211.5px,#ebf300 234.5px)"></i><i style="top:205px;left:115px;width:235px;background:linear-gradient(90deg,#00ff89 0.5px,#00ff66 78.5px,#00ff45 120.5px,#06ff31 135.5px,#18ff23 143.5px,#63ff07 162.5px,#95ff00 181.5px,#d0fc00 212.5px,#ecf200 234.5px)"></i><i style="top:206px;left:115px;width:236px;background:linear-gradient(90deg,#00ff89 0.5px,#00ff67 78.5px,#00ff46 120.5px,#06ff33 135.5px,#19ff25 143.5px,#67ff07 163.5px,#9aff00 183.5px,#d4fb00 214.5px,#eef000 235.5px)"></i><i style="top:207px;left:115px;width:237px;background:linear-gradient(90deg,#00ff8a 0.5px,#00ff68 79.5px,#00ff47 121.5px,#07ff35 135.5px,#1aff28 143.5px,#65ff0a 162.5px,#97ff01 181.5px,#d2fc00 212.5px,#efef00 236.5px)"></i><i style="top:208px;left:115px;width:238px;background:linear-gradient(90deg,#00ff8b 0.5px,#00ff69 79.5px,#00ff47 122.5px,#07ff37 135.5px,#1bff2a 143.5px,#66ff0b 162.5px,#95ff01 180.5px,#d1fc00 211.5px,#efef00 235.5px,#f0ee00 237.5px)"></i><i style="top:209px;left:115px;width:239px;background:linear-gradient(90deg,#00ff8c 0.5px,#00ff6a 79.5px,#00ff49 122.5px,#08ff39 135.5px,#1cff2c 143.5px,#67ff0d 162.5px,#96ff01 180.5px,#d2fc00 211.5px,#efef00 235.5px,#f2ec00 238.5px)"></i><i style="top:210px;left:115px;width:240px;background:linear-gradient(90deg,#00ff8d 0.5px,#00ff6a 80.5px,#00ff49 123.5px,#08ff3b 135.5px,#1dff2e 143.5px,#65ff10 161.5px,#93ff02 178.5px,#d0fc00 209.5px,#eef000 233.5px,#f3eb00 239.5px)"></i><i style="top:211px;left:115px;width:241px;background:linear-gradient(90deg,#00ff8d 0.5px,#00ff6b 80.5px,#00ff4a 124.5px,#08ff3d 135.5px,#1eff31 143.5px,#66ff11 161.5px,#91ff03 177.5px,#cffc00 208.5px,#eef000 232.5px,#f4e900 240.5px)"></i><i style="top:212px;left:115px;width:242px;background:linear-gradient(90deg,#00ff8e 0.5px,#00ff6c 81.5px,#01ff4a 125.5px,#09ff3f 135.5px,#1fff33 143.5px,#67ff13 161.5px,#92ff03 177.5px,#cefc00 207.5px,#edf100 231.5px,#f5e800 241.5px)"></i><i style="top:213px;left:115px;width:243px;background:linear-gradient(90deg,#00ff8f 0.5px,#00ff6d 81.5px,#01ff4b 126.5px,#0bff3f 136.5px,#28ff32 145.5px,#65ff17 160.5px,#91ff04 176.5px,#cdfc00 206.5px,#edf100 230.5px,#f6e600 242.5px)"></i><i style="top:214px;left:115px;width:244px;background:linear-gradient(90deg,#00ff90 0.5px,#00ff6d 82.5px,#01ff4b 127.5px,#0cff41 136.5px,#2aff34 145.5px,#66ff19 160.5px,#92ff05 176.5px,#cefc00 206.5px,#eef000 230.5px,#f7e500 243.5px)"></i><i style="top:215px;left:115px;width:245px;background:linear-gradient(90deg,#00ff91 0.5px,#00ff6e 82.5px,#02ff4d 127.5px,#0dff43 136.5px,#2bff36 145.5px,#67ff1c 160.5px,#95ff05 177.5px,#d1fc00 207.5px,#efef00 231.5px,#f7e300 244.5px)"></i><i style="top:216px;left:116px;width:245px;background:linear-gradient(90deg,#00ff91 0.5px,#00ff6f 82.5px,#02ff4d 127.5px,#10ff43 136.5px,#35ff35 146.5px,#6bff1c 160.5px,#98ff06 177.5px,#d1fc00 206.5px,#efef00 230.5px,#f8e100 244.5px)"></i><i style="top:217px;left:116px;width:246px;background:linear-gradient(90deg,#00ff92 0.5px,#00ff70 82.5px,#03ff4e 128.5px,#13ff44 137.5px,#6cff1e 160.5px,#99ff07 177.5px,#ccfd00 202.5px,#ecf100 226.5px,#f9e000 245.5px)"></i><i style="top:218px;left:116px;width:247px;background:linear-gradient(90deg,#00ff93 0.5px,#00ff70 83.5px,#03ff50 127.5px,#11ff47 136.5px,#3cff38 147.5px,#6dff21 160.5px,#9cff07 178.5px,#ccfd00 202.5px,#edf100 226.5px,#f9de00 246.5px)"></i><i style="top:219px;left:116px;width:248px;background:linear-gradient(90deg,#00ff93 0.5px,#00ff71 83.5px,#03ff52 127.5px,#12ff49 136.5px,#41ff38 148.5px,#71ff21 161.5px,#a0ff07 179.5px,#cdfc00 202.5px,#eef000 226.5px,#fadc00 247.5px)"></i><i style="top:220px;left:116px;width:249px;background:linear-gradient(90deg,#00ff94 0.5px,#00ff72 83.5px,#03ff53 127.5px,#13ff4a 136.5px,#47ff39 149.5px,#76ff22 162.5px,#a3ff07 180.5px,#d0fc00 203.5px,#eef000 226.5px,#fada00 248.5px)"></i><i style="top:221px;left:116px;width:250px;background:linear-gradient(90deg,#00ff95 0.5px,#00ff73 84.5px,#03ff55 127.5px,#11ff4d 135.5px,#3bff3f 146.5px,#6dff2a 159.5px,#a1ff09 179.5px,#c8fd00 198.5px,#ebf200 222.5px,#fbd900 248.5px,#fbd800 249.5px)"></i><i style="top:222px;left:116px;width:251px;background:linear-gradient(90deg,#00ff96 0.5px,#00ff74 84.5px,#03ff57 126.5px,#12ff4e 135.5px,#3dff41 146.5px,#6fff2c 159.5px,#a5ff0a 180.5px,#cbfd00 199.5px,#ecf100 223.5px,#fbd700 249.5px,#fbd600 250.5px)"></i><i style="top:223px;left:116px;width:252px;background:linear-gradient(90deg,#00ff97 0.5px,#00ff74 85.5px,#03ff59 126.5px,#12ff50 135.5px,#42ff42 147.5px,#73ff2d 160.5px,#a8ff0a 181.5px,#cdfc01 200.5px,#edf100 223.5px,#fbd600 250.5px,#fcd400 251.5px)"></i><i style="top:224px;left:116px;width:253px;background:linear-gradient(90deg,#00ff97 0.5px,#00ff75 85.5px,#03ff5a 126.5px,#13ff52 135.5px,#4cff41 149.5px,#7aff2c 162.5px,#adff09 183.5px,#d3fb00 203.5px,#f0ee00 226.5px,#fcd300 252.5px)"></i><i style="top:225px;left:117px;width:253px;background:linear-gradient(90deg,#00ff98 0.5px,#00ff76 85.5px,#03ff5b 125.5px,#11ff54 133.5px,#3cff48 144.5px,#6fff35 157.5px,#a5ff10 178.5px,#c6fd02 194.5px,#eaf300 218.5px,#fadb00 243.5px,#fcd100 252.5px)"></i><i style="top:226px;left:117px;width:254px;background:linear-gradient(90deg,#00ff99 0.5px,#00ff77 85.5px,#03ff5d 124.5px,#12ff56 133.5px,#3dff4a 144.5px,#70ff38 157.5px,#a6ff12 178.5px,#c7fd03 194.5px,#ebf200 218.5px,#fada00 243.5px,#fdcf00 253.5px)"></i><i style="top:227px;left:117px;width:255px;background:linear-gradient(90deg,#00ff99 0.5px,#00ff78 86.5px,#03ff5f 124.5px,#13ff57 133.5px,#43ff4b 145.5px,#74ff38 158.5px,#aeff0f 181.5px,#cdfc02 197.5px,#edf000 220.5px,#fbd600 246.5px,#fdcd00 254.5px)"></i><i style="top:228px;left:117px;width:256px;background:linear-gradient(90deg,#00ff9a 0.5px,#00ff79 86.5px,#03ff60 124.5px,#11ff59 132.5px,#37ff50 142.5px,#6bff3f 155.5px,#a1ff1b 175.5px,#c3fd06 191.5px,#e9f400 215.5px,#fadd00 239.5px,#fdcb00 255.5px)"></i><i style="top:229px;left:117px;width:257px;background:linear-gradient(90deg,#00ff9b 0.5px,#00ff7a 86.5px,#03ff61 124.5px,#11ff5b 132.5px,#3dff50 143.5px,#70ff40 156.5px,#a7ff1a 177.5px,#c8fd05 193.5px,#ebf200 216.5px,#fada00 241.5px,#fdc900 256.5px)"></i><i style="top:230px;left:117px;width:258px;background:linear-gradient(90deg,#00ff9c 0.5px,#00ff7a 87.5px,#03ff64 123.5px,#12ff5c 132.5px,#3eff52 143.5px,#71ff42 156.5px,#a8ff1c 177.5px,#c9fd06 193.5px,#ebf200 216.5px,#fbd900 241.5px,#fdc700 257.5px)"></i><i style="top:231px;left:117px;width:259px;background:linear-gradient(90deg,#00ff9d 0.5px,#00ff7b 87.5px,#03ff65 123.5px,#10ff5f 131.5px,#37ff55 141.5px,#6fff45 155.5px,#a7ff21 176.5px,#cafd07 193.5px,#ecf200 216.5px,#fbd800 241.5px,#fec500 258.5px)"></i><i style="top:232px;left:117px;width:260px;background:linear-gradient(90deg,#00ff9e 0.5px,#00ff7c 88.5px,#03ff66 123.5px,#11ff60 131.5px,#38ff57 141.5px,#6dff48 154.5px,#a3ff27 174.5px,#c9fd09 192.5px,#e7f500 211.5px,#f9df00 234.5px,#fec300 259.5px)"></i><i style="top:233px;left:118px;width:260px;background:linear-gradient(90deg,#00ff9e 0.5px,#00ff7d 87.5px,#04ff67 122.5px,#12ff61 130.5px,#3eff58 141.5px,#71ff49 154.5px,#a9ff26 175.5px,#cefc08 193.5px,#ebf200 213.5px,#fbd900 238.5px,#fec100 259.5px)"></i><i style="top:234px;left:118px;width:261px;background:linear-gradient(90deg,#00ff9f 0.5px,#00ff7d 88.5px,#03ff6a 121.5px,#10ff63 129.5px,#36ff5b 139.5px,#6fff4c 153.5px,#a5ff2c 173.5px,#cffc0a 193.5px,#eaf200 212.5px,#fada00 236.5px,#febf00 260.5px)"></i><i style="top:235px;left:118px;width:262px;background:linear-gradient(90deg,#00ffa0 0.5px,#00ff7f 88.5px,#03ff6b 121.5px,#11ff65 129.5px,#37ff5c 139.5px,#6dff4f 152.5px,#a1ff33 171.5px,#d1fc0a 194.5px,#ebf201 212.5px,#fad900 236.5px,#febe00 261.5px)"></i><i style="top:236px;left:118px;width:263px;background:linear-gradient(90deg,#00ffa1 0.5px,#00ff7f 89.5px,#03ff6c 121.5px,#11ff66 129.5px,#39ff5e 139.5px,#6eff51 152.5px,#a5ff33 172.5px,#d4fb0a 195.5px,#edf101 213.5px,#fbd600 238.5px,#febc00 262.5px)"></i><i style="top:237px;left:118px;width:264px;background:linear-gradient(90deg,#00ffa1 0.5px,#00ff80 89.5px,#04ff6d 121.5px,#12ff68 129.5px,#3fff5f 140.5px,#72ff52 153.5px,#aaff32 174.5px,#d7fb0b 196.5px,#eeef01 214.5px,#fcd300 240.5px,#feba00 263.5px)"></i><i style="top:238px;left:118px;width:265px;background:linear-gradient(90deg,#00ffa2 0.5px,#00ff81 89.5px,#03ff6f 120.5px,#10ff6a 128.5px,#37ff62 138.5px,#6dff55 151.5px,#a2ff3c 170.5px,#d7fa0c 196.5px,#eef001 213.5px,#fcd300 239.5px,#feb800 264.5px)"></i><i style="top:239px;left:118px;width:266px;background:linear-gradient(90deg,#00ffa3 0.5px,#00ff82 90.5px,#03ff71 120.5px,#11ff6b 128.5px,#38ff63 138.5px,#6eff57 151.5px,#a3ff3e 170.5px,#d8fa0e 196.5px,#eef002 212.5px,#fbd500 237.5px,#feb600 265.5px)"></i><i style="top:240px;left:118px;width:267px;background:linear-gradient(90deg,#00ffa4 0.5px,#00ff83 90.5px,#04ff72 120.5px,#12ff6c 128.5px,#3aff65 138.5px,#6fff59 151.5px,#a7ff3f 171.5px,#dbf90e 197.5px,#efee02 213.5px,#fcd200 239.5px,#ffb400 266.5px)"></i><i style="top:241px;left:119px;width:267px;background:linear-gradient(90deg,#00ffa4 0.5px,#00ff84 90.5px,#04ff73 119.5px,#13ff6e 127.5px,#40ff65 138.5px,#74ff59 151.5px,#acff3e 172.5px,#ddf90f 197.5px,#f1ed02 213.5px,#fdcd00 241.5px,#ffb200 266.5px)"></i><i style="top:242px;left:119px;width:268px;background:linear-gradient(90deg,#00ffa5 0.5px,#00ff85 90.5px,#03ff75 118.5px,#11ff70 126.5px,#38ff68 136.5px,#6eff5d 149.5px,#a4ff46 168.5px,#d9fa15 194.5px,#edf004 209.5px,#fcd500 234.5px,#ffb100 267.5px)"></i><i style="top:243px;left:119px;width:269px;background:linear-gradient(90deg,#00ffa6 0.5px,#00ff85 91.5px,#03ff76 118.5px,#11ff71 126.5px,#39ff6a 136.5px,#6fff5e 149.5px,#a5ff48 168.5px,#dafa18 194.5px,#eeef05 209.5px,#fcd400 234.5px,#ffaf00 268.5px)"></i><i style="top:244px;left:119px;width:270px;background:linear-gradient(90deg,#00ffa7 0.5px,#00ff86 91.5px,#04ff77 118.5px,#12ff72 126.5px,#3bff6b 136.5px,#70ff60 149.5px,#a8ff49 169.5px,#dbf91a 194.5px,#efef05 209.5px,#fcd200 235.5px,#ffad00 269.5px)"></i><i style="top:245px;left:119px;width:271px;background:linear-gradient(90deg,#00ffa8 0.5px,#00ff87 91.5px,#04ff79 118.5px,#13ff74 126.5px,#41ff6c 137.5px,#75ff61 150.5px,#aefe48 171.5px,#dff819 196.5px,#f1ec05 211.5px,#fdcc00 239.5px,#ffab00 270.5px)"></i><i style="top:246px;left:119px;width:272px;background:linear-gradient(90deg,#00ffa9 0.5px,#00ff88 92.5px,#04ff7a 118.5px,#14ff75 126.5px,#47ff6c 138.5px,#79ff61 151.5px,#b4fe47 173.5px,#e1f719 197.5px,#f2eb05 212.5px,#fdc900 241.5px,#ffaa00 271.5px)"></i><i style="top:247px;left:119px;width:273px;background:linear-gradient(90deg,#00ffa9 0.5px,#00ff89 92.5px,#03ff7c 117.5px,#12ff77 125.5px,#3aff70 135.5px,#71ff66 148.5px,#a7ff52 167.5px,#d4fb2e 188.5px,#eeef0b 207.5px,#f9dc01 224.5px,#ffa800 272.5px)"></i><i style="top:248px;left:119px;width:274px;background:linear-gradient(90deg,#00ffaa 0.5px,#00ff8a 92.5px,#04ff7d 117.5px,#13ff78 125.5px,#3bff71 135.5px,#72ff67 148.5px,#aaff52 168.5px,#d6fa2f 189.5px,#f0ed0b 208.5px,#fada01 225.5px,#ffa600 273.5px)"></i><i style="top:249px;left:120px;width:274px;background:linear-gradient(90deg,#00ffab 0.5px,#00ff8b 92.5px,#04ff7e 116.5px,#13ff79 124.5px,#42ff72 135.5px,#76ff68 148.5px,#b0fe52 169.5px,#dbf92d 190.5px,#f2eb0a 209.5px,#fbd601 227.5px,#ffa400 273.5px)"></i><i style="top:250px;left:120px;width:275px;background:linear-gradient(90deg,#00ffac 0.5px,#00ff8c 93.5px,#04ff80 116.5px,#14ff7b 124.5px,#48ff73 136.5px,#7bff68 149.5px,#b6fe51 171.5px,#dff82c 192.5px,#f3e90b 210.5px,#fcd401 228.5px,#ffa300 274.5px)"></i><i style="top:251px;left:120px;width:276px;background:linear-gradient(90deg,#00ffad 0.5px,#00ff8d 93.5px,#04ff81 115.5px,#12ff7d 123.5px,#3bff76 133.5px,#72ff6c 146.5px,#a9ff5a 165.5px,#d7fa39 187.5px,#f1ec10 207.5px,#fada02 222.5px,#ffa300 273.5px,#ffa100 275.5px)"></i><i style="top:252px;left:120px;width:277px;background:linear-gradient(90deg,#00ffad 0.5px,#00ff8e 93.5px,#04ff83 115.5px,#13ff7e 123.5px,#41ff77 134.5px,#77ff6d 147.5px,#aefe5a 167.5px,#daf939 188.5px,#f3ea11 208.5px,#fbd802 223.5px,#ffa200 273.5px,#ff9f00 276.5px)"></i><i style="top:253px;left:120px;width:278px;background:linear-gradient(90deg,#00ffae 0.5px,#00ff8e 94.5px,#04ff84 115.5px,#14ff7f 123.5px,#43ff78 134.5px,#78ff6e 147.5px,#b2fe5a 168.5px,#ddf93a 189.5px,#f4e811 209.5px,#fbd603 224.5px,#ffa000 274.5px,#ff9d00 277.5px)"></i><i style="top:254px;left:120px;width:279px;background:linear-gradient(90deg,#00ffaf 0.5px,#00ff90 94.5px,#04ff85 115.5px,#15ff80 123.5px,#49ff79 135.5px,#7cff6f 148.5px,#b8fe5a 170.5px,#e1f738 191.5px,#f6e510 211.5px,#fcd302 226.5px,#ff9e00 275.5px,#ff9c00 278.5px)"></i><i style="top:255px;left:120px;width:280px;background:linear-gradient(90deg,#00ffb0 0.5px,#00ff91 94.5px,#05ff86 115.5px,#16ff82 123.5px,#73ff73 145.5px,#aaff62 164.5px,#dbf943 187.5px,#f3e919 207.5px,#fbd705 222.5px,#ffb100 254.5px,#ff9a00 279.5px)"></i><i style="top:256px;left:121px;width:280px;background:linear-gradient(90deg,#00ffb1 0.5px,#00ff91 94.5px,#04ff88 113.5px,#13ff84 121.5px,#42ff7d 132.5px,#78ff74 145.5px,#b0fe62 165.5px,#dff841 188.5px,#f5e617 208.5px,#fcd304 223.5px,#ffa800 262.5px,#ff9800 279.5px)"></i><i style="top:257px;left:121px;width:281px;background:linear-gradient(90deg,#00ffb1 0.5px,#00ff92 95.5px,#04ff89 113.5px,#14ff85 121.5px,#44ff7e 132.5px,#79ff75 145.5px,#b4fe63 166.5px,#e2f742 189.5px,#f6e418 209.5px,#fcd104 224.5px,#ffa800 261.5px,#ff9700 280.5px)"></i><i style="top:258px;left:121px;width:282px;background:linear-gradient(90deg,#00ffb2 0.5px,#00ff93 95.5px,#05ff8a 113.5px,#15ff86 121.5px,#4aff7f 133.5px,#7eff76 146.5px,#b7fe63 167.5px,#e3f644 189.5px,#f7e31a 209.5px,#fcd005 224.5px,#ffaf00 253.5px,#ff9500 281.5px)"></i><i style="top:259px;left:121px;width:283px;background:linear-gradient(90deg,#00ffb3 0.5px,#00ff94 95.5px,#05ff8c 113.5px,#16ff87 121.5px,#75ff7a 143.5px,#acfe6a 162.5px,#ddf84d 185.5px,#f5e725 205.5px,#fcd309 221.5px,#febc00 240.5px,#ff9300 282.5px)"></i><i style="top:260px;left:121px;width:284px;background:linear-gradient(90deg,#00ffb4 0.5px,#00ff95 96.5px,#05ff8d 113.5px,#17ff89 121.5px,#72ff7c 142.5px,#a8ff6d 160.5px,#dbf953 183.5px,#f4e82c 203.5px,#fcd30c 220.5px,#febf01 237.5px,#ff9200 283.5px)"></i><i style="top:261px;left:121px;width:285px;background:linear-gradient(90deg,#00ffb5 0.5px,#00ff96 96.5px,#05ff8e 113.5px,#18ff8a 121.5px,#74ff7d 142.5px,#acfe6e 161.5px,#ddf853 184.5px,#f5e72c 204.5px,#fcd00b 222.5px,#feba01 240.5px,#ff9000 284.5px)"></i><i style="top:262px;left:122px;width:285px;background:linear-gradient(90deg,#00ffb6 0.5px,#00ff97 96.5px,#06ff8f 112.5px,#19ff8b 120.5px,#75ff7e 141.5px,#adfe70 160.5px,#def855 183.5px,#f5e62f 203.5px,#fccf0c 221.5px,#feba01 238.5px,#ff8e00 284.5px)"></i><i style="top:263px;left:122px;width:286px;background:linear-gradient(90deg,#00ffb6 0.5px,#00ff98 96.5px,#05ff91 111.5px,#17ff8d 119.5px,#76ff80 141.5px,#aefe71 160.5px,#ddf858 182.5px,#f4e736 201.5px,#fdcd0c 222.5px,#feb801 239.5px,#ff8d00 285.5px)"></i><i style="top:264px;left:122px;width:287px;background:linear-gradient(90deg,#00feb7 0.5px,#00ff99 97.5px,#05ff92 111.5px,#18ff8e 119.5px,#74ff82 140.5px,#aaff75 158.5px,#ddf85c 181.5px,#f4e83a 200.5px,#fdcc0e 222.5px,#feb802 238.5px,#ff8b00 286.5px)"></i><i style="top:265px;left:122px;width:288px;background:linear-gradient(90deg,#00feb8 0.5px,#00ff9a 97.5px,#06ff94 111.5px,#19ff90 119.5px,#75ff83 140.5px,#aefe75 159.5px,#def85e 181.5px,#f4e73d 200.5px,#fdca0e 223.5px,#feb602 239.5px,#ff8a00 287.5px)"></i><i style="top:266px;left:122px;width:289px;background:linear-gradient(90deg,#00feb9 0.5px,#00ff9b 98.5px,#06ff95 111.5px,#1aff91 119.5px,#73ff86 139.5px,#aaff79 157.5px,#dbf962 179.5px,#f3e943 198.5px,#fdc70e 224.5px,#ffb402 240.5px,#ff8800 288.5px)"></i><i style="top:267px;left:122px;width:290px;background:linear-gradient(90deg,#00feba 0.5px,#00ff9c 98.5px,#06ff96 111.5px,#1bff92 119.5px,#74ff87 139.5px,#abfe7a 157.5px,#dcf964 179.5px,#f4e845 198.5px,#fec40d 226.5px,#ffb101 242.5px,#ff8600 289.5px)"></i><i style="top:268px;left:123px;width:290px;background:linear-gradient(90deg,#00febb 0.5px,#00ff9d 98.5px,#07ff97 110.5px,#1cff94 118.5px,#75ff88 138.5px,#acfe7c 156.5px,#ddf865 178.5px,#f4e747 197.5px,#fec20d 226.5px,#ffaf01 242.5px,#ff8500 289.5px)"></i><i style="top:269px;left:123px;width:291px;background:linear-gradient(90deg,#00febc 0.5px,#00ff9e 98.5px,#07ff99 110.5px,#1dff95 118.5px,#73ff8a 137.5px,#a8ff7f 154.5px,#daf96a 176.5px,#f3e94d 195.5px,#fec414 223.5px,#ffb303 238.5px,#ff8300 290.5px)"></i><i style="top:270px;left:123px;width:292px;background:linear-gradient(90deg,#00febc 0.5px,#00ff9f 99.5px,#08ff9a 110.5px,#1eff96 118.5px,#74ff8c 137.5px,#acfe80 155.5px,#ddf86a 177.5px,#f5e74d 196.5px,#fec011 226.5px,#ffad02 242.5px,#ff8200 291.5px)"></i><i style="top:271px;left:123px;width:293px;background:linear-gradient(90deg,#00febd 0.5px,#00ffa0 99.5px,#08ff9b 110.5px,#1fff97 118.5px,#76ff8d 137.5px,#adfe81 155.5px,#def86c 177.5px,#f5e64f 196.5px,#febd11 227.5px,#ffab02 243.5px,#ff8000 292.5px)"></i><i style="top:272px;left:123px;width:294px;background:linear-gradient(90deg,#00febe 0.5px,#00ffa1 99.5px,#09ff9c 110.5px,#20ff99 118.5px,#73ff8f 136.5px,#a9fe84 153.5px,#dcf970 175.5px,#f4e754 194.5px,#fec11a 223.5px,#ffb006 238.5px,#ff9400 266.5px,#ff7f00 293.5px)"></i><i style="top:273px;left:123px;width:295px;background:linear-gradient(90deg,#00febf 0.5px,#01ffa2 100.5px,#09ff9e 110.5px,#22ff9a 118.5px,#75ff91 136.5px,#aafe86 153.5px,#ddf871 175.5px,#f4e756 194.5px,#febf1a 224.5px,#ffae06 239.5px,#ff9300 266.5px,#ff7d00 294.5px)"></i><i style="top:274px;left:123px;width:296px;background:linear-gradient(90deg,#00fec0 0.5px,#01ffa3 100.5px,#0aff9f 110.5px,#23ff9b 118.5px,#76ff92 136.5px,#aefe87 154.5px,#ddf873 175.5px,#f5e658 194.5px,#febe1d 224.5px,#ffac06 240.5px,#ff9200 266.5px,#ff7b00 295.5px)"></i><i style="top:275px;left:124px;width:296px;background:linear-gradient(90deg,#00fec1 0.5px,#01ffa4 100.5px,#0affa0 109.5px,#24ff9d 117.5px,#73ff94 134.5px,#aafe89 151.5px,#dbf977 172.5px,#f3e95e 190.5px,#fec52b 217.5px,#ffaf0b 235.5px,#ff9c01 253.5px,#ff7a00 295.5px)"></i><i style="top:276px;left:124px;width:297px;background:linear-gradient(90deg,#00fec2 0.5px,#01ffa5 100.5px,#0bffa2 109.5px,#25ff9e 117.5px,#75ff95 134.5px,#abfe8b 151.5px,#dcf878 172.5px,#f4e860 190.5px,#fec22c 218.5px,#ffac0a 237.5px,#ff9901 256.5px,#ff7800 296.5px)"></i><i style="top:277px;left:124px;width:298px;background:linear-gradient(90deg,#00fec3 0.5px,#02ffa6 101.5px,#0effa2 110.5px,#2bff9f 118.5px,#76ff97 134.5px,#acfe8d 151.5px,#ddf87a 172.5px,#f4e761 190.5px,#fec12e 218.5px,#ffab0b 237.5px,#ff9901 255.5px,#ff7700 297.5px)"></i><i style="top:278px;left:124px;width:299px;background:linear-gradient(90deg,#00fec3 0.5px,#02ffa7 101.5px,#0fffa4 110.5px,#2dffa0 118.5px,#74ff99 133.5px,#abfe8f 150.5px,#dcf87d 171.5px,#f4e765 189.5px,#fec232 217.5px,#ffa90c 238.5px,#ff9701 256.5px,#ff7500 298.5px)"></i><i style="top:279px;left:124px;width:300px;background:linear-gradient(90deg,#00fec4 0.5px,#02ffa9 101.5px,#0fffa5 110.5px,#2effa2 118.5px,#75ff9a 133.5px,#acfe90 150.5px,#ddf87e 171.5px,#f4e766 189.5px,#fec134 217.5px,#ffa70c 239.5px,#ff9601 256.5px,#ff7400 299.5px)"></i><i style="top:280px;left:125px;width:300px;background:linear-gradient(90deg,#00fec5 0.5px,#03ffaa 101.5px,#10ffa6 109.5px,#30ffa3 117.5px,#76ff9c 132.5px,#adfe92 149.5px,#dcf881 169.5px,#f4e769 187.5px,#fec138 215.5px,#ffa50c 239.5px,#ff9401 256.5px,#ff7200 299.5px)"></i><i style="top:281px;left:125px;width:301px;background:linear-gradient(90deg,#00fec6 0.5px,#02ffab 100.5px,#0effa8 108.5px,#2cffa5 116.5px,#74ff9e 131.5px,#a9fe95 147.5px,#dbf883 168.5px,#f4e76c 186.5px,#fec33e 213.5px,#ffa30c 240.5px,#ff9201 257.5px,#ff7000 300.5px)"></i><i style="top:282px;left:125px;width:302px;background:linear-gradient(90deg,#00fec7 0.5px,#03ffac 100.5px,#0fffa9 108.5px,#2effa6 116.5px,#75ff9f 131.5px,#adfe95 148.5px,#dcf885 168.5px,#f4e76d 186.5px,#fec03e 214.5px,#ffa10d 241.5px,#ff9001 258.5px,#ff6f00 301.5px)"></i><i style="top:283px;left:125px;width:303px;background:linear-gradient(90deg,#00fec8 0.5px,#03ffae 100.5px,#10ffab 108.5px,#2fffa7 116.5px,#77ffa0 131.5px,#aefe97 148.5px,#ddf886 168.5px,#f5e66f 186.5px,#febe3e 215.5px,#ff9f0d 242.5px,#ff8f01 259.5px,#ff6d00 302.5px)"></i><i style="top:284px;left:125px;width:304px;background:linear-gradient(90deg,#00fec9 0.5px,#02ffaf 99.5px,#0effac 107.5px,#2cffa9 115.5px,#78ffa2 131.5px,#b0fe99 148.5px,#def788 168.5px,#f5e570 186.5px,#febb3e 216.5px,#ff9c0c 244.5px,#ff8b01 262.5px,#ff6c00 303.5px)"></i><i style="top:285px;left:125px;width:305px;background:linear-gradient(90deg,#00fdca 0.5px,#02ffb1 99.5px,#0fffae 107.5px,#2dffab 115.5px,#75ffa4 130.5px,#abfe9b 146.5px,#dcf88b 166.5px,#f4e774 184.5px,#fec149 211.5px,#ff9a0c 245.5px,#ff8901 263.5px,#ff6a00 304.5px)"></i><i style="top:286px;left:126px;width:305px;background:linear-gradient(90deg,#00fdca 0.5px,#03ffb2 98.5px,#0fffaf 106.5px,#2fffac 114.5px,#77ffa5 129.5px,#acfe9d 145.5px,#ddf88d 165.5px,#f4e777 182.5px,#fec14c 209.5px,#ff980c 245.5px,#ff8801 263.5px,#ff6900 304.5px)"></i><i style="top:287px;left:126px;width:306px;background:linear-gradient(90deg,#00fdcb 0.5px,#03ffb3 98.5px,#10ffb0 106.5px,#30ffad 114.5px,#78ffa7 129.5px,#b1fe9e 146.5px,#def88e 165.5px,#f4e678 182.5px,#fec04e 209.5px,#ff950b 247.5px,#ff8501 265.5px,#ff6700 305.5px)"></i><i style="top:288px;left:126px;width:307px;background:linear-gradient(90deg,#00fdcc 0.5px,#02ffb5 97.5px,#0effb2 105.5px,#2dffaf 113.5px,#76ffa9 128.5px,#acfea0 144.5px,#ddf891 164.5px,#f4e77b 181.5px,#fec051 208.5px,#ff930b 248.5px,#ff8301 266.5px,#ff6600 306.5px)"></i><i style="top:289px;left:126px;width:308px;background:linear-gradient(90deg,#00fdcd 0.5px,#03feb6 97.5px,#0fffb3 105.5px,#2effb0 113.5px,#77ffaa 128.5px,#adfea2 144.5px,#dcf893 163.5px,#f4e77e 180.5px,#fec256 206.5px,#ff910c 249.5px,#ff8101 267.5px,#ff6400 307.5px)"></i><i style="top:290px;left:126px;width:309px;background:linear-gradient(90deg,#00fdce 0.5px,#03feb7 97.5px,#10ffb5 105.5px,#2fffb2 113.5px,#78ffac 128.5px,#affea4 144.5px,#ddf895 163.5px,#f4e67f 180.5px,#fec055 207.5px,#ff8f0c 250.5px,#ff8001 268.5px,#ff6200 308.5px)"></i><i style="top:291px;left:126px;width:310px;background:linear-gradient(90deg,#00fdcf 0.5px,#02feb9 96.5px,#0efeb6 104.5px,#2cffb3 112.5px,#7affad 128.5px,#b3fea4 145.5px,#e0f695 164.5px,#f5e47f 181.5px,#febb52 210.5px,#ff8c0b 252.5px,#ff7c01 271.5px,#ff6100 309.5px)"></i><i style="top:292px;left:127px;width:310px;background:linear-gradient(90deg,#00fdd0 0.5px,#02feba 95.5px,#0ffeb8 103.5px,#2dfeb5 111.5px,#77ffaf 126.5px,#aefea7 142.5px,#ddf799 161.5px,#f4e683 178.5px,#febf59 205.5px,#ff8e10 248.5px,#ff7f02 265.5px,#ff5f00 309.5px)"></i><i style="top:293px;left:127px;width:311px;background:linear-gradient(90deg,#00fdd1 0.5px,#03febc 95.5px,#0ffeb9 103.5px,#2ffeb6 111.5px,#79ffb0 126.5px,#b0fea9 142.5px,#def79a 161.5px,#f5e584 178.5px,#febc59 206.5px,#ff8c10 249.5px,#ff7e02 266.5px,#ff5e00 310.5px)"></i><i style="top:294px;left:127px;width:312px;background:linear-gradient(90deg,#00fdd1 0.5px,#03febd 95.5px,#10feba 103.5px,#30feb8 111.5px,#7affb2 126.5px,#b1feaa 142.5px,#dff79b 161.5px,#f5e485 178.5px,#feba59 207.5px,#ff8a0f 251.5px,#ff7b02 268.5px,#ff5c00 311.5px)"></i><i style="top:295px;left:127px;width:313px;background:linear-gradient(90deg,#00fcd2 0.5px,#02febe 94.5px,#0efebc 102.5px,#2dfeb9 110.5px,#7cfeb3 126.5px,#b2feac 142.5px,#def79e 160.5px,#f5e488 177.5px,#febc5d 205.5px,#ff8b15 248.5px,#ff7d03 265.5px,#ff5a00 312.5px)"></i><i style="top:296px;left:127px;width:314px;background:linear-gradient(90deg,#00fcd3 0.5px,#02fec0 94.5px,#0ffebd 102.5px,#2efebb 110.5px,#79feb5 125.5px,#b1feae 141.5px,#ddf7a0 159.5px,#f5e58b 176.5px,#febd61 203.5px,#ff8d1d 245.5px,#ff7e06 262.5px,#ff6900 289.5px,#ff5900 313.5px)"></i><i style="top:297px;left:128px;width:314px;background:linear-gradient(90deg,#00fcd4 0.5px,#03fec1 93.5px,#10febf 101.5px,#30febc 109.5px,#7afeb7 124.5px,#b2feaf 140.5px,#dff7a2 158.5px,#f5e48c 175.5px,#febb61 203.5px,#ff8b1d 245.5px,#ff7c06 262.5px,#ff6800 289.5px,#ff5700 313.5px)"></i><i style="top:298px;left:128px;width:315px;background:linear-gradient(90deg,#00fcd5 0.5px,#03fec2 93.5px,#10fec0 101.5px,#31febe 109.5px,#7cfeb8 124.5px,#b3feb1 140.5px,#e0f6a3 158.5px,#f6e38d 175.5px,#feb861 204.5px,#ff891d 246.5px,#ff7a06 264.5px,#ff6400 293.5px,#ff5500 314.5px)"></i><i style="top:299px;left:128px;width:316px;background:linear-gradient(90deg,#00fcd6 0.5px,#02fec4 92.5px,#0efec2 100.5px,#2efebf 108.5px,#79feba 123.5px,#b2feb3 139.5px,#dff7a6 157.5px,#f5e390 174.5px,#feba65 202.5px,#ff8921 245.5px,#ff7a07 263.5px,#ff6800 286.5px,#ff5400 315.5px)"></i><i style="top:300px;left:128px;width:317px;background:linear-gradient(90deg,#00fcd7 0.5px,#03fec5 92.5px,#0ffec3 100.5px,#2ffec1 108.5px,#7bfebc 123.5px,#b3fdb5 139.5px,#e0f6a7 157.5px,#f5e492 173.5px,#febb69 200.5px,#ff8b28 242.5px,#ff7908 263.5px,#ff6800 284.5px,#ff5200 316.5px)"></i><i style="top:301px;left:128px;width:318px;background:linear-gradient(90deg,#00fbd8 0.5px,#03fec7 92.5px,#10fec4 100.5px,#31fec2 108.5px,#7cfebd 123.5px,#b4fdb6 139.5px,#e1f6a8 157.5px,#f6e393 173.5px,#feb968 201.5px,#ff8827 244.5px,#ff7709 264.5px,#ff6700 285.5px,#ff5000 317.5px)"></i><i style="top:302px;left:129px;width:318px;background:linear-gradient(90deg,#00fbd8 0.5px,#02fdc8 90.5px,#0efec6 98.5px,#2dfec4 106.5px,#7efebf 122.5px,#b6fdb8 138.5px,#e0f6ab 155.5px,#f5e396 171.5px,#feb96b 199.5px,#ff892c 241.5px,#ff7509 264.5px,#ff6500 285.5px,#ff4f00 317.5px)"></i><i style="top:303px;left:129px;width:319px;background:linear-gradient(90deg,#00fbd9 0.5px,#02fdc9 90.5px,#0ffdc7 98.5px,#2ffec5 106.5px,#7bfec0 121.5px,#b1fdba 136.5px,#dff6ad 154.5px,#f5e498 170.5px,#febb6f 197.5px,#ff8b33 238.5px,#ff740a 264.5px,#ff6500 284.5px,#ff4d00 318.5px)"></i><i style="top:304px;left:129px;width:320px;background:linear-gradient(90deg,#00fbda 0.5px,#03fdcb 90.5px,#10fdc9 98.5px,#30fec6 106.5px,#7cfec2 121.5px,#b5fdbb 137.5px,#e0f6af 154.5px,#f6e39a 170.5px,#feb86e 198.5px,#ff8831 240.5px,#ff7209 266.5px,#ff6200 287.5px,#ff4b00 319.5px)"></i><i style="top:305px;left:129px;width:321px;background:linear-gradient(90deg,#00fbdb 0.5px,#03fdcc 90.5px,#10fdca 98.5px,#32fdc8 106.5px,#7efec3 121.5px,#b7fdbd 137.5px,#e1f5b0 154.5px,#f6e29b 170.5px,#feb66e 199.5px,#ff8530 242.5px,#ff7009 267.5px,#ff6100 287.5px,#ff4a00 320.5px)"></i><i style="top:306px;left:129px;width:322px;background:linear-gradient(90deg,#00fadc 0.5px,#02fdce 89.5px,#0efdcc 97.5px,#2efdca 105.5px,#7bfec5 120.5px,#b2fdbf 135.5px,#def6b3 152.5px,#f5e49f 168.5px,#febc76 194.5px,#ff8b3c 235.5px,#ff6e09 268.5px,#ff5f00 288.5px,#ff4800 321.5px)"></i><i style="top:307px;left:130px;width:322px;background:linear-gradient(90deg,#00fadd 0.5px,#03fdcf 88.5px,#0ffdcd 96.5px,#2ffdcb 104.5px,#7dfdc7 119.5px,#b3fdc1 134.5px,#dff6b5 151.5px,#f5e3a0 167.5px,#feb975 194.5px,#ff893c 235.5px,#ff6c0a 268.5px,#ff5d00 288.5px,#ff4600 321.5px)"></i><i style="top:308px;left:130px;width:323px;background:linear-gradient(90deg,#00fade 0.5px,#03fcd0 88.5px,#10fdce 96.5px,#31fdcc 104.5px,#7efdc8 119.5px,#b5fdc2 134.5px,#e0f5b6 151.5px,#f6e2a1 167.5px,#feb675 195.5px,#ff863b 237.5px,#ff6a09 270.5px,#ff5a00 291.5px,#ff4400 322.5px)"></i><i style="top:309px;left:130px;width:324px;background:linear-gradient(90deg,#00fade 0.5px,#03fcd1 88.5px,#11fdd0 96.5px,#33fdce 104.5px,#80fdca 119.5px,#b9fcc4 135.5px,#e3f4b6 152.5px,#f7dfa0 168.5px,#ffb070 199.5px,#ff7f33 243.5px,#ff6809 271.5px,#ff5800 292.5px,#ff4200 323.5px)"></i><i style="top:310px;left:130px;width:325px;background:linear-gradient(90deg,#00f9df 0.5px,#02fcd3 87.5px,#0ffcd1 95.5px,#2ffdcf 103.5px,#7dfdcb 118.5px,#b4fcc6 133.5px,#e0f5ba 150.5px,#f6e1a4 166.5px,#feb578 194.5px,#ff8641 235.5px,#ff6609 272.5px,#ff5600 293.5px,#ff4000 324.5px)"></i><i style="top:311px;left:130px;width:326px;background:linear-gradient(90deg,#00f9e0 0.5px,#03fcd4 87.5px,#10fcd2 95.5px,#30fcd1 103.5px,#7efdcd 118.5px,#b5fcc8 133.5px,#e1f4bb 150.5px,#f6e0a5 166.5px,#feb378 195.5px,#ff833f 237.5px,#ff6308 274.5px,#ff5300 296.5px,#ff3e00 325.5px)"></i><i style="top:312px;left:131px;width:326px;background:linear-gradient(90deg,#00f9e1 0.5px,#03fcd5 86.5px,#10fcd4 94.5px,#32fcd2 102.5px,#80fcce 117.5px,#b7fcc9 132.5px,#e0f4bd 148.5px,#f6e0a8 164.5px,#feb47b 192.5px,#ff8445 233.5px,#ff6209 274.5px,#ff5100 296.5px,#ff3c00 325.5px)"></i><i style="top:313px;left:131px;width:327px;background:linear-gradient(90deg,#00f9e2 0.5px,#02fbd7 85.5px,#0efcd5 93.5px,#29fcd4 100.5px,#81fcd0 117.5px,#b8fbcb 132.5px,#e1f4bf 148.5px,#f7dfa9 164.5px,#feb27b 193.5px,#ff8143 235.5px,#ff6009 275.5px,#ff5000 296.5px,#ff3a00 326.5px)"></i><i style="top:314px;left:131px;width:328px;background:linear-gradient(90deg,#00f8e3 0.5px,#02fbd8 85.5px,#0ffbd7 93.5px,#30fcd5 101.5px,#7efcd1 116.5px,#b6fbcd 131.5px,#e0f4c1 147.5px,#f6e1ad 162.5px,#feb883 188.5px,#ff874d 228.5px,#ff5d08 277.5px,#ff4d00 299.5px,#ff3800 327.5px)"></i><i style="top:315px;left:131px;width:329px;background:linear-gradient(90deg,#00f8e3 0.5px,#03fbd9 85.5px,#10fbd8 93.5px,#31fbd6 101.5px,#80fcd3 116.5px,#b8fbce 131.5px,#e1f3c2 147.5px,#f6e0ae 162.5px,#feb582 189.5px,#ff854d 229.5px,#ff5b07 279.5px,#ff4900 303.5px,#ff3600 328.5px)"></i><i style="top:316px;left:131px;width:330px;background:linear-gradient(90deg,#00f8e4 0.5px,#03fada 85.5px,#11fbd9 93.5px,#33fbd8 101.5px,#81fbd4 116.5px,#b9fbd0 131.5px,#e2f2c4 147.5px,#f6dfaf 162.5px,#feb282 190.5px,#ff824c 231.5px,#ff5907 280.5px,#ff4700 304.5px,#ff3400 329.5px)"></i><i style="top:317px;left:132px;width:330px;background:linear-gradient(90deg,#00f7e5 0.5px,#02fadc 83.5px,#0ffadb 91.5px,#2afbd9 98.5px,#83fbd6 115.5px,#bafad1 130.5px,#e3f2c5 146.5px,#f7deb0 161.5px,#ffb081 190.5px,#ff7f4a 232.5px,#ff5708 280.5px,#ff4600 303.5px,#ff3100 329.5px)"></i><i style="top:318px;left:132px;width:331px;background:linear-gradient(90deg,#00f7e6 0.5px,#03fadd 83.5px,#0ffadc 91.5px,#2bfadb 98.5px,#80fbd7 114.5px,#b8fad3 129.5px,#e2f2c7 145.5px,#f7deb2 160.5px,#feb185 188.5px,#ff814f 229.5px,#ff601a 267.5px,#ff5205 285.5px,#ff3600 321.5px,#ff2f00 330.5px)"></i><i style="top:319px;left:132px;width:332px;background:linear-gradient(90deg,#00f6e7 0.5px,#03f9de 83.5px,#10fadd 91.5px,#32fadc 99.5px,#81fbd9 114.5px,#bafad4 129.5px,#e3f1c9 145.5px,#f7ddb3 160.5px,#ffaf84 189.5px,#ff7f4f 230.5px,#ff5f1b 267.5px,#ff5005 286.5px,#ff3500 321.5px,#ff2c00 331.5px)"></i><i style="top:320px;left:132px;width:333px;background:linear-gradient(90deg,#00f6e7 0.5px,#02f9df 82.5px,#0ef9de 90.5px,#29fadd 97.5px,#83fada 114.5px,#bbf9d6 129.5px,#e4f0ca 145.5px,#f7dcb4 160.5px,#ffaa82 191.5px,#ff7a4b 234.5px,#ff5107 284.5px,#ff3e00 308.5px,#ff2900 332.5px)"></i><i style="top:321px;left:132px;width:334px;background:linear-gradient(90deg,#00f6e8 0.5px,#02f9e1 82.5px,#0ff9e0 90.5px,#2bf9df 97.5px,#84fadc 114.5px,#bcf9d7 129.5px,#e3f1cc 144.5px,#f7dcb7 159.5px,#ffad87 188.5px,#ff7d52 229.5px,#ff5d1f 267.5px,#ff4d06 287.5px,#ff3600 316.5px,#ff2700 333.5px)"></i><i style="top:322px;left:133px;width:334px;background:linear-gradient(90deg,#00f5e9 0.5px,#03f8e2 81.5px,#10f8e1 89.5px,#2cf9e0 96.5px,#81f9dd 112.5px,#baf8d9 127.5px,#e2f1ce 142.5px,#f7ddb9 157.5px,#ffaf8b 185.5px,#ff7e56 226.5px,#ff5c21 266.5px,#ff4b06 287.5px,#ff3500 315.5px,#ff2400 333.5px)"></i><i style="top:323px;left:133px;width:335px;background:linear-gradient(90deg,#00f5ea 0.5px,#03f8e3 81.5px,#11f8e2 89.5px,#33f8e1 97.5px,#83f9df 112.5px,#bbf8da 127.5px,#e3f0d0 142.5px,#f7dcba 157.5px,#ffac8a 186.5px,#ff7c55 227.5px,#ff5a21 267.5px,#ff4906 288.5px,#ff3300 315.5px,#ff2100 334.5px)"></i><i style="top:324px;left:133px;width:336px;background:linear-gradient(90deg,#00f4ea 0.5px,#02f7e4 80.5px,#0ff7e3 88.5px,#2af8e2 95.5px,#84f8e0 112.5px,#bdf7dc 127.5px,#e4efd1 142.5px,#f7dabb 157.5px,#ffaa89 187.5px,#ff7954 229.5px,#ff5821 268.5px,#ff4706 289.5px,#ff3100 316.5px,#ff1e00 335.5px)"></i><i style="top:325px;left:133px;width:337px;background:linear-gradient(90deg,#00f4eb 0.5px,#03f7e5 80.5px,#0ff7e4 88.5px,#2bf7e4 95.5px,#81f8e1 111.5px,#bbf7de 126.5px,#e3efd3 141.5px,#f7dbbd 156.5px,#ffab8d 185.5px,#ff7b58 226.5px,#ff5723 268.5px,#ff4506 290.5px,#ff2f00 316.5px,#ff1b00 336.5px)"></i><i style="top:326px;left:134px;width:337px;background:linear-gradient(90deg,#00f3ec 0.5px,#03f6e6 79.5px,#10f6e5 87.5px,#2df7e5 94.5px,#82f7e3 110.5px,#bcf6df 125.5px,#e4eed4 140.5px,#f7dabe 155.5px,#ffa98c 185.5px,#ff7857 227.5px,#ff5523 268.5px,#ff4307 290.5px,#ff2c00 316.5px,#ff1800 336.5px)"></i><i style="top:327px;left:134px;width:338px;background:linear-gradient(90deg,#00f3ec 0.5px,#03f6e7 79.5px,#11f6e7 87.5px,#33f6e6 95.5px,#84f7e4 110.5px,#bdf6e0 125.5px,#e4edd5 140.5px,#f8d8bf 155.5px,#ffa68b 186.5px,#ff7556 229.5px,#ff5222 270.5px,#ff4006 292.5px,#ff2600 320.5px,#ff1500 337.5px)"></i><i style="top:328px;left:134px;width:339px;background:linear-gradient(90deg,#00f2ed 0.5px,#02f5e8 78.5px,#0ff5e8 86.5px,#2af6e7 93.5px,#85f6e5 110.5px,#bef5e1 125.5px,#e5ecd6 140.5px,#f8d7c0 155.5px,#ffa289 188.5px,#ff7052 233.5px,#ff4f21 272.5px,#ff3e06 293.5px,#ff2300 321.5px,#ff1200 338.5px)"></i><i style="top:329px;left:134px;width:340px;background:linear-gradient(90deg,#00f2ee 0.5px,#03f4e9 78.5px,#10f5e9 86.5px,#2cf5e8 93.5px,#82f5e6 109.5px,#bcf5e3 124.5px,#e4ecd8 139.5px,#f8d7c2 154.5px,#ffa58e 185.5px,#ff7359 228.5px,#ff4e24 271.5px,#ff3b06 294.5px,#ff2100 321.5px,#ff0f00 339.5px)"></i><i style="top:330px;left:134px;width:341px;background:linear-gradient(90deg,#00f1ee 0.5px,#03f4ea 78.5px,#10f4ea 86.5px,#2df4e9 93.5px,#83f5e8 109.5px,#bdf4e4 124.5px,#e5ebd9 139.5px,#f8d6c3 154.5px,#ffa28d 186.5px,#ff7057 230.5px,#ff4c22 273.5px,#ff3906 295.5px,#ff1e00 322.5px,#ff0d00 340.5px)"></i><i style="top:331px;left:135px;width:341px;background:linear-gradient(90deg,#00f1ef 0.5px,#03f3eb 77.5px,#11f3eb 85.5px,#34f4ea 93.5px,#85f4e9 108.5px,#bef3e5 123.5px,#e5eada 138.5px,#f8d5c4 153.5px,#ff9f8d 186.5px,#ff6d56 231.5px,#ff4923 273.5px,#ff3707 295.5px,#ff1c00 321.5px,#ff0a00 340.5px)"></i><i style="top:332px;left:135px;width:342px;background:linear-gradient(90deg,#00f0f0 0.5px,#02f2ec 76.5px,#0ff3ec 84.5px,#2bf3eb 91.5px,#86f3ea 108.5px,#bff2e7 123.5px,#e6e9db 138.5px,#f9d3c4 153.5px,#ff9b8a 188.5px,#ff6952 235.5px,#ff4721 275.5px,#ff3306 297.5px,#ff1600 325.5px,#ff0800 341.5px)"></i><i style="top:333px;left:135px;width:343px;background:linear-gradient(90deg,#00eff0 0.5px,#03f2ed 76.5px,#10f2ed 84.5px,#2cf2ec 91.5px,#83f3eb 107.5px,#bdf1e8 122.5px,#e5e9dd 137.5px,#f8d3c7 152.5px,#ff9f91 184.5px,#ff6e5b 228.5px,#ff4625 274.5px,#ff3107 297.5px,#ff1700 322.5px,#ff0700 342.5px)"></i><i style="top:334px;left:135px;width:344px;background:linear-gradient(90deg,#00eff1 0.5px,#03f1ee 76.5px,#11f1ee 84.5px,#2ef1ed 91.5px,#84f2ec 107.5px,#bef1e9 122.5px,#e6e8de 137.5px,#f9d2c7 152.5px,#ff9b8f 186.5px,#ff6957 232.5px,#ff4323 276.5px,#ff2e06 299.5px,#ff1100 326.5px,#ff0500 343.5px)"></i><i style="top:335px;left:136px;width:344px;background:linear-gradient(90deg,#00eef1 0.5px,#02f0ef 74.5px,#0ff0ef 82.5px,#2af0ee 89.5px,#85f1ed 106.5px,#bff0ea 121.5px,#e6e6df 136.5px,#f9d1c8 151.5px,#ff998e 186.5px,#ff6656 233.5px,#ff4123 276.5px,#ff2b06 299.5px,#ff0f00 326.5px,#ff0400 343.5px)"></i><i style="top:336px;left:136px;width:345px;background:linear-gradient(90deg,#00edf2 0.5px,#02eff0 74.5px,#0fefef 82.5px,#2bf0ef 89.5px,#87f0ee 106.5px,#c0efeb 121.5px,#e7e5e0 136.5px,#f9cfc9 151.5px,#ff958c 188.5px,#ff6052 238.5px,#ff3d22 278.5px,#ff2706 301.5px,#ff0a00 330.5px,#ff0300 344.5px)"></i><i style="top:337px;left:136px;width:346px;background:linear-gradient(90deg,#00edf2 0.5px,#03eef1 74.5px,#10eef0 82.5px,#2deff0 89.5px,#83efef 105.5px,#bdeeed 120.5px,#e5e5e2 135.5px,#f8d1cd 149.5px,#ffa099 179.5px,#ff6e63 222.5px,#ff3e27 276.5px,#ff2507 301.5px,#ff0b00 327.5px,#ff0200 345.5px)"></i><i style="top:338px;left:136px;width:347px;background:linear-gradient(90deg,#00ecf3 0.5px,#03edf1 74.5px,#11eef1 82.5px,#2eeef1 89.5px,#84eef0 105.5px,#beeded 120.5px,#e6e4e3 135.5px,#f9cecc 150.5px,#ff9691 185.5px,#ff6259 233.5px,#ff3924 279.5px,#ff2006 303.5px,#ff0700 331.5px,#ff0200 346.5px)"></i><i style="top:339px;left:136px;width:346px;background:linear-gradient(90deg,#00ebf4 0.5px,#02ecf2 73.5px,#0fedf2 81.5px,#2aedf2 88.5px,#86edf1 105.5px,#bfecee 120.5px,#e7e2e4 135.5px,#f9cccc 150.5px,#ff9390 186.5px,#ff5f57 235.5px,#ff3724 280.5px,#ff1d06 304.5px,#ff0600 331.5px,#ff0100 345.5px)"></i><i style="top:340px;left:137px;width:343px;background:linear-gradient(90deg,#00ebf4 0.5px,#03ecf3 72.5px,#0fecf3 80.5px,#2cecf2 87.5px,#82ecf2 103.5px,#bdebf0 118.5px,#e5e2e5 133.5px,#f8ced0 147.5px,#ff9e9e 176.5px,#ff6c68 219.5px,#ff3627 278.5px,#ff1a06 304.5px,#ff0400 331.5px,#ff0100 342.5px)"></i><i style="top:341px;left:137px;width:340px;background:linear-gradient(90deg,#00eaf5 0.5px,#03ebf3 72.5px,#10ebf3 80.5px,#2debf3 87.5px,#83ebf3 103.5px,#bde9f0 118.5px,#e6e0e6 133.5px,#f8cdd1 147.5px,#ff9c9d 177.5px,#ff6966 221.5px,#ff3327 279.5px,#ff1707 305.5px,#ff0400 331.5px,#ff0200 339.5px)"></i><i style="top:342px;left:137px;width:338px;background:linear-gradient(90deg,#00e9f5 0.5px,#03eaf4 72.5px,#11eaf4 80.5px,#34eaf4 88.5px,#85eaf3 103.5px,#bee8f1 118.5px,#e6dfe7 133.5px,#f9cad0 148.5px,#ff9295 183.5px,#ff5d5c 232.5px,#ff2e25 282.5px,#ff1306 307.5px,#ff0300 332.5px,#ff0200 337.5px)"></i><i style="top:343px;left:137px;width:336px;background:linear-gradient(90deg,#00e8f5 0.5px,#02e9f5 71.5px,#0fe9f5 79.5px,#2be9f5 86.5px,#86e9f4 103.5px,#bfe7f2 118.5px,#e6dee7 133.5px,#f9c8d0 148.5px,#ff8f94 184.5px,#ff595a 235.5px,#ff2b25 283.5px,#ff1006 308.5px,#ff0200 333.5px,#ff0200 335.5px)"></i><i style="top:344px;left:138px;width:333px;background:linear-gradient(90deg,#00e7f6 0.5px,#03e8f5 70.5px,#10e8f5 78.5px,#2ce8f5 85.5px,#82e7f5 101.5px,#bce6f3 116.5px,#e5dde9 131.5px,#f8cad4 145.5px,#ff9aa2 174.5px,#ff696d 216.5px,#ff2926 282.5px,#ff0d06 308.5px,#ff0200 332.5px)"></i><i style="top:345px;left:138px;width:331px;background:linear-gradient(90deg,#00e7f6 0.5px,#03e6f6 70.5px,#10e6f6 78.5px,#2de6f6 85.5px,#83e6f5 101.5px,#bde5f4 116.5px,#e5dcea 131.5px,#f8c8d5 145.5px,#ff97a1 175.5px,#ff666b 218.5px,#ff2627 283.5px,#ff0b06 309.5px,#ff0200 330.5px)"></i><i style="top:346px;left:138px;width:329px;background:linear-gradient(90deg,#00e6f7 0.5px,#03e5f6 70.5px,#11e5f6 78.5px,#34e5f6 86.5px,#84e5f6 101.5px,#bee3f4 116.5px,#e6daea 131.5px,#f8c7d5 145.5px,#ff96a1 175.5px,#ff646c 218.5px,#ff2227 284.5px,#ff0907 310.5px,#ff0200 328.5px)"></i><i style="top:347px;left:138px;width:326px;background:linear-gradient(90deg,#00e5f7 0.5px,#02e4f7 69.5px,#0fe4f7 77.5px,#2be4f7 84.5px,#85e4f7 101.5px,#bee2f5 116.5px,#e6d9eb 131.5px,#f9c3d4 146.5px,#ff8c99 181.5px,#ff5862 229.5px,#ff1f27 285.5px,#ff0606 312.5px,#ff0201 325.5px)"></i><i style="top:348px;left:139px;width:323px;background:linear-gradient(90deg,#00e4f8 0.5px,#03e3f7 68.5px,#10e3f7 76.5px,#2ce3f7 83.5px,#82e2f7 99.5px,#bce1f6 114.5px,#e4d8ec 129.5px,#f7c5d8 143.5px,#ff97a7 171.5px,#ff6773 212.5px,#ff1d28 284.5px,#ff0507 311.5px,#ff0202 322.5px)"></i><i style="top:349px;left:139px;width:321px;background:linear-gradient(90deg,#00e3f8 0.5px,#03e2f8 68.5px,#11e2f8 76.5px,#33e2f8 84.5px,#83e1f8 99.5px,#bcdff6 114.5px,#e5d6ed 129.5px,#f8c3d8 143.5px,#ff95a6 172.5px,#ff6371 214.5px,#ff1c2b 283.5px,#ff050a 309.5px,#ff0202 320.5px)"></i><i style="top:350px;left:139px;width:319px;background:linear-gradient(90deg,#00e2f8 0.5px,#03e1f8 68.5px,#11e1f8 76.5px,#34e0f8 84.5px,#84e0f8 99.5px,#bddef7 114.5px,#e5d5ed 129.5px,#f8c2d9 143.5px,#ff93a7 172.5px,#ff6272 214.5px,#ff1b2e 282.5px,#ff050c 308.5px,#ff0204 318.5px)"></i><i style="top:351px;left:139px;width:317px;background:linear-gradient(90deg,#00e1f9 0.5px,#02e0f9 67.5px,#0fdff9 75.5px,#2bdff9 82.5px,#85def9 99.5px,#bedcf7 114.5px,#e5d3ee 129.5px,#f8bed8 144.5px,#ff8ba0 177.5px,#ff586a 222.5px,#ff1228 288.5px,#ff0208 313.5px,#ff0206 316.5px)"></i><i style="top:352px;left:140px;width:314px;background:linear-gradient(90deg,#00e0f9 0.5px,#03def9 66.5px,#10def9 74.5px,#2cdef9 81.5px,#81ddf9 97.5px,#bbdbf8 112.5px,#e3d2ef 127.5px,#f7c0db 141.5px,#ff94ac 168.5px,#ff6479 208.5px,#ff1a34 278.5px,#ff0512 304.5px,#ff0208 313.5px)"></i><i style="top:353px;left:140px;width:311px;background:linear-gradient(90deg,#00dff9 0.5px,#03ddfa 66.5px,#11ddfa 74.5px,#33dcfa 82.5px,#82dcfa 97.5px,#bbd9f8 112.5px,#e4d1f0 127.5px,#f7bedc 141.5px,#ff93ad 168.5px,#ff6379 208.5px,#ff1835 278.5px,#ff0415 303.5px,#ff020c 310.5px)"></i><i style="top:354px;left:140px;width:309px;background:linear-gradient(90deg,#00defa 0.5px,#03dcfa 66.5px,#11dcfa 74.5px,#34dbfa 82.5px,#83dafa 97.5px,#bcd8f9 112.5px,#e4cff0 127.5px,#f8bbda 142.5px,#ff8ca7 172.5px,#ff5b73 214.5px,#ff0a27 291.5px,#ff0210 308.5px)"></i><i style="top:355px;left:140px;width:307px;background:linear-gradient(90deg,#00defa 0.5px,#03dbfa 65.5px,#0fdafa 73.5px,#2bdafa 80.5px,#80d9fa 96.5px,#b9d6f9 111.5px,#e4cdf0 127.5px,#f8b9db 142.5px,#ff89a6 173.5px,#ff5872 216.5px,#ff0828 291.5px,#ff0214 306.5px)"></i><i style="top:356px;left:141px;width:304px;background:linear-gradient(90deg,#00ddfa 0.5px,#03dafb 64.5px,#10d9fb 72.5px,#31d8fb 80.5px,#81d7fb 95.5px,#bad5fa 110.5px,#e4cbf1 126.5px,#f8b7db 141.5px,#ff88a7 172.5px,#ff5673 215.5px,#ff092d 287.5px,#ff0218 303.5px)"></i><i style="top:357px;left:141px;width:302px;background:linear-gradient(90deg,#00dcfa 0.5px,#03d8fb 64.5px,#11d8fb 72.5px,#33d7fb 80.5px,#82d6fb 95.5px,#bad3fa 110.5px,#e4caf1 126.5px,#f8b6db 141.5px,#ff86a7 172.5px,#ff5573 215.5px,#ff0931 285.5px,#ff021d 301.5px)"></i><i style="top:358px;left:141px;width:300px;background:linear-gradient(90deg,#00dbfb 0.5px,#03d7fb 64.5px,#12d6fb 72.5px,#34d6fb 80.5px,#83d4fb 95.5px,#bed1fa 111.5px,#e5c8f1 126.5px,#f8b4dc 141.5px,#ff85a7 172.5px,#ff5374 215.5px,#ff0934 283.5px,#ff0221 299.5px)"></i><i style="top:359px;left:141px;width:297px;background:linear-gradient(90deg,#00d9fb 0.5px,#03d6fb 63.5px,#0fd5fc 71.5px,#30d4fc 79.5px,#7fd3fc 94.5px,#b8d0fb 109.5px,#e3c7f2 125.5px,#f7b4de 140.5px,#ff87ac 169.5px,#ff577a 210.5px,#ff0937 281.5px,#ff0226 296.5px)"></i><i style="top:360px;left:142px;width:294px;background:linear-gradient(90deg,#00d8fb 0.5px,#03d4fc 62.5px,#10d4fc 70.5px,#31d3fc 78.5px,#80d1fc 93.5px,#b8cefb 108.5px,#e3c5f3 124.5px,#f7b2de 139.5px,#ff86ad 168.5px,#ff557a 209.5px,#ff093a 278.5px,#ff022a 293.5px)"></i><i style="top:361px;left:142px;width:292px;background:linear-gradient(90deg,#00d7fb 0.5px,#03d3fc 62.5px,#11d2fc 70.5px,#33d1fc 78.5px,#81d0fc 93.5px,#bcccfb 109.5px,#e5c2f2 125.5px,#f8afdd 140.5px,#ff7fa7 172.5px,#ff4c74 216.5px,#ff0a3e 275.5px,#ff022e 291.5px)"></i><i style="top:362px;left:142px;width:290px;background:linear-gradient(90deg,#00d6fc 0.5px,#02d2fc 61.5px,#0fd1fc 69.5px,#2ad0fc 76.5px,#82cefc 93.5px,#bccbfb 109.5px,#e5c1f2 125.5px,#f8addd 140.5px,#ff7da8 172.5px,#ff4a74 216.5px,#ff0a41 273.5px,#ff0231 289.5px)"></i><i style="top:363px;left:143px;width:287px;background:linear-gradient(90deg,#00d5fc 0.5px,#03d0fc 60.5px,#0fd0fc 68.5px,#30cffd 76.5px,#7ecdfd 91.5px,#b6cafc 106.5px,#e1c1f4 122.5px,#f6aee1 137.5px,#fe85b3 164.5px,#ff5580 204.5px,#ff0a43 270.5px,#ff0234 286.5px)"></i><i style="top:364px;left:143px;width:285px;background:linear-gradient(90deg,#00d4fc 0.5px,#03cffd 60.5px,#10cefd 68.5px,#31cdfd 76.5px,#7fcbfd 91.5px,#bac8fc 107.5px,#e3bef3 123.5px,#f7abdf 138.5px,#ff7faf 167.5px,#ff4e7b 209.5px,#ff0a46 268.5px,#ff0237 284.5px)"></i><i style="top:365px;left:143px;width:282px;background:linear-gradient(90deg,#00d3fc 0.5px,#03cefd 60.5px,#11cdfd 68.5px,#33ccfd 76.5px,#80c9fd 91.5px,#bac6fc 107.5px,#e3bcf4 123.5px,#f7a9df 138.5px,#ff7eaf 167.5px,#ff4c7c 209.5px,#ff0a48 266.5px,#ff033b 281.5px)"></i><i style="top:366px;left:143px;width:280px;background:linear-gradient(90deg,#00d2fc 0.5px,#02ccfd 59.5px,#0fcbfd 67.5px,#2fcafd 75.5px,#7cc8fd 90.5px,#b4c5fc 105.5px,#e1bbf5 122.5px,#f6a9e1 137.5px,#fe80b4 164.5px,#ff5082 204.5px,#ff0a4b 264.5px,#ff033e 279.5px)"></i><i style="top:367px;left:144px;width:277px;background:linear-gradient(90deg,#00d1fd 0.5px,#03cbfd 58.5px,#0fcafd 66.5px,#30c9fd 74.5px,#7dc6fd 89.5px,#b8c3fc 105.5px,#e3b8f4 122.5px,#f7a6e0 137.5px,#ff7bb0 166.5px,#ff487d 208.5px,#ff0b4e 260.5px,#ff0340 276.5px)"></i><i style="top:368px;left:144px;width:275px;background:linear-gradient(90deg,#00d0fd 0.5px,#03cafd 58.5px,#10c8fd 66.5px,#31c7fd 74.5px,#7ec5fe 89.5px,#b8c1fd 105.5px,#e3b6f4 122.5px,#f7a4e0 137.5px,#ff79b0 166.5px,#ff467e 208.5px,#ff0b51 258.5px,#ff0343 274.5px)"></i><i style="top:369px;left:144px;width:273px;background:linear-gradient(90deg,#00cffd 0.5px,#03c8fd 58.5px,#11c7fd 66.5px,#33c6fe 74.5px,#7fc3fe 89.5px,#b8bffd 105.5px,#e3b5f4 122.5px,#f7a2e0 137.5px,#ff77b1 166.5px,#ff457e 208.5px,#ff0b53 256.5px,#ff0346 272.5px)"></i><i style="top:370px;left:145px;width:270px;background:linear-gradient(90deg,#00cdfd 0.5px,#02c7fd 56.5px,#0fc6fe 64.5px,#2fc4fe 72.5px,#7bc2fe 87.5px,#b5befd 103.5px,#e2b4f5 120.5px,#f6a2e2 135.5px,#fe7ab6 162.5px,#ff4783 203.5px,#ff0b55 253.5px,#ff0348 269.5px)"></i><i style="top:371px;left:145px;width:267px;background:linear-gradient(90deg,#00ccfd 0.5px,#03c5fe 56.5px,#10c4fe 64.5px,#30c3fe 72.5px,#7cc0fe 87.5px,#b6bcfd 103.5px,#e2b2f5 120.5px,#f6a0e2 135.5px,#fe78b6 162.5px,#ff4583 203.5px,#ff0b58 251.5px,#ff034b 266.5px)"></i><i style="top:372px;left:145px;width:265px;background:linear-gradient(90deg,#00cbfd 0.5px,#03c4fe 56.5px,#10c3fe 64.5px,#31c1fe 72.5px,#7dbefe 87.5px,#b6bafd 103.5px,#e2b0f5 120.5px,#f69ee3 135.5px,#fe76b7 162.5px,#ff4384 203.5px,#ff0b5a 249.5px,#ff034e 264.5px)"></i><i style="top:373px;left:145px;width:263px;background:linear-gradient(90deg,#00cafd 0.5px,#03c3fe 56.5px,#11c1fe 64.5px,#32c0fe 72.5px,#7ebdfe 87.5px,#b6b8fd 103.5px,#e2aef5 120.5px,#f79be1 136.5px,#ff71b3 165.5px,#ff3b7f 208.5px,#ff0b5c 247.5px,#ff0350 262.5px)"></i><i style="top:374px;left:146px;width:260px;background:linear-gradient(90deg,#00c9fd 0.5px,#02c1fe 54.5px,#0fc0fe 62.5px,#2fbefe 70.5px,#7abbfe 85.5px,#b4b7fd 101.5px,#e2acf6 119.5px,#f799e1 135.5px,#ff6fb3 164.5px,#ff3980 207.5px,#ff0b5f 244.5px,#ff0352 259.5px)"></i><i style="top:375px;left:146px;width:258px;background:linear-gradient(90deg,#00c8fe 0.5px,#03c0fe 54.5px,#10befe 62.5px,#30bdfe 70.5px,#7bbafe 85.5px,#b4b5fd 101.5px,#e2aaf6 119.5px,#f797e2 135.5px,#ff6db3 164.5px,#ff3780 207.5px,#ff0b61 242.5px,#ff0355 257.5px)"></i><i style="top:376px;left:146px;width:256px;background:linear-gradient(90deg,#00c6fe 0.5px,#03bffe 54.5px,#10bdfe 62.5px,#31bbfe 70.5px,#7cb8fe 85.5px,#b4b3fe 101.5px,#e2a8f6 119.5px,#f795e2 135.5px,#ff6bb4 164.5px,#ff3481 207.5px,#ff0b63 240.5px,#ff0357 255.5px)"></i><i style="top:377px;left:147px;width:252px;background:linear-gradient(90deg,#00c5fe 0.5px,#03bdfe 53.5px,#11bcfe 61.5px,#32bafe 69.5px,#7db6fe 84.5px,#b7b1fd 101.5px,#e4a5f5 119.5px,#f792e1 135.5px,#ff64af 167.5px,#ff297c 212.5px,#ff0963 240.5px,#ff035a 251.5px)"></i><i style="top:378px;left:147px;width:250px;background:linear-gradient(90deg,#00c4fe 0.5px,#03bcfe 52.5px,#0fbafe 60.5px,#2eb9fe 68.5px,#79b5fe 83.5px,#b2b0fe 99.5px,#e0a5f7 117.5px,#f693e4 133.5px,#fe6cb9 160.5px,#ff3586 202.5px,#ff0c68 235.5px,#ff035c 249.5px)"></i><i style="top:379px;left:147px;width:248px;background:linear-gradient(90deg,#00c3fe 0.5px,#03bafe 52.5px,#10b9fe 60.5px,#30b7fe 68.5px,#7ab3fe 83.5px,#b2aefe 99.5px,#e0a3f7 117.5px,#f691e4 133.5px,#fe6ab9 160.5px,#ff3286 202.5px,#ff0c6a 233.5px,#ff035e 247.5px)"></i><i style="top:380px;left:148px;width:245px;background:linear-gradient(90deg,#00c2fe 0.5px,#03b9fe 51.5px,#10b7fe 59.5px,#31b5fe 67.5px,#7bb2ff 82.5px,#b5acfe 99.5px,#e2a0f6 117.5px,#f78de3 133.5px,#fe64b5 162.5px,#ff2a83 205.5px,#ff0a6b 232.5px,#ff0361 244.5px)"></i><i style="top:381px;left:148px;width:243px;background:linear-gradient(90deg,#00c0fe 0.5px,#03b8fe 51.5px,#11b6fe 59.5px,#32b4ff 67.5px,#7cb0ff 82.5px,#b6aafe 99.5px,#e29ef6 117.5px,#f68ce3 133.5px,#fe62b6 162.5px,#ff2883 205.5px,#ff096c 231.5px,#ff0363 242.5px)"></i><i style="top:382px;left:148px;width:240px;background:linear-gradient(90deg,#00bffe 0.5px,#03b6fe 50.5px,#0fb4fe 58.5px,#2eb3ff 66.5px,#78afff 81.5px,#b0a9fe 97.5px,#e09df7 116.5px,#f68be5 132.5px,#fe65ba 159.5px,#ff2b88 201.5px,#ff0a6f 228.5px,#ff0466 239.5px)"></i><i style="top:383px;left:149px;width:237px;background:linear-gradient(90deg,#00befe 0.5px,#03b5fe 49.5px,#10b3ff 57.5px,#30b1ff 65.5px,#79adff 80.5px,#b3a7fe 97.5px,#e29bf6 116.5px,#f688e3 132.5px,#fe5fb6 161.5px,#ff2183 205.5px,#ff076e 229.5px,#ff0468 236.5px)"></i><i style="top:384px;left:149px;width:235px;background:linear-gradient(90deg,#00bdfe 0.5px,#03b3ff 49.5px,#10b1ff 57.5px,#31afff 65.5px,#7aabff 80.5px,#b3a5fe 97.5px,#e299f6 116.5px,#f686e3 132.5px,#fe5db7 161.5px,#ff1e84 205.5px,#ff076f 228.5px,#ff046a 234.5px)"></i><i style="top:385px;left:149px;width:233px;background:linear-gradient(90deg,#00bbfe 0.5px,#03b2ff 49.5px,#11b0ff 57.5px,#32aeff 65.5px,#7ba9ff 80.5px,#b4a3fe 97.5px,#e297f6 116.5px,#f684e4 132.5px,#fe5bb7 161.5px,#ff1c84 205.5px,#ff0670 228.5px,#ff046c 232.5px)"></i><i style="top:386px;left:150px;width:230px;background:linear-gradient(90deg,#00bafe 0.5px,#03b1ff 47.5px,#0fafff 55.5px,#2eadff 63.5px,#77a8ff 78.5px,#b1a2fe 95.5px,#e096f7 114.5px,#f583e5 130.5px,#fe5dbc 157.5px,#ff1f89 200.5px,#ff0774 223.5px,#ff046f 229.5px)"></i><i style="top:387px;left:150px;width:228px;background:linear-gradient(90deg,#00b9fe 0.5px,#03afff 47.5px,#10adff 55.5px,#2fabff 63.5px,#78a6ff 78.5px,#b1a0fe 95.5px,#e094f7 114.5px,#f680e4 131.5px,#fe56b8 160.5px,#ff1785 204.5px,#ff0472 226.5px,#ff0471 227.5px)"></i><i style="top:388px;left:150px;width:225px;background:linear-gradient(90deg,#00b8fe 0.5px,#03aeff 47.5px,#10acff 55.5px,#31a9ff 63.5px,#79a5ff 78.5px,#b29efe 95.5px,#e092f7 114.5px,#f67ee4 131.5px,#fe54b8 160.5px,#ff1586 204.5px,#ff0474 224.5px)"></i><i style="top:389px;left:151px;width:222px;background:linear-gradient(90deg,#00b6fe 0.5px,#03acff 46.5px,#11aaff 54.5px,#32a8ff 62.5px,#7aa3ff 77.5px,#b29cfe 94.5px,#e090f7 113.5px,#f67ce4 130.5px,#fe52b9 159.5px,#ff1286 203.5px,#ff0476 221.5px)"></i><i style="top:390px;left:151px;width:220px;background:linear-gradient(90deg,#00b5ff 0.5px,#03abff 46.5px,#12a9ff 54.5px,#38a6ff 63.5px,#7aa1ff 77.5px,#b59afe 95.5px,#e28df7 114.5px,#f778e3 131.5px,#fe4bb5 162.5px,#ff0f86 204.5px,#ff0478 219.5px)"></i><i style="top:391px;left:151px;width:218px;background:linear-gradient(90deg,#00b4ff 0.5px,#03aaff 45.5px,#10a7ff 53.5px,#2fa5ff 61.5px,#77a0ff 76.5px,#b099fe 93.5px,#e08bf7 113.5px,#f678e5 130.5px,#fe4eb9 159.5px,#ff0f88 202.5px,#ff047b 217.5px)"></i><i style="top:392px;left:152px;width:215px;background:linear-gradient(90deg,#00b3ff 0.5px,#03a8ff 44.5px,#11a6ff 52.5px,#31a4ff 60.5px,#789eff 75.5px,#b097fe 92.5px,#e089f7 112.5px,#f676e5 129.5px,#fe4bba 158.5px,#ff0f8b 199.5px,#ff047d 214.5px)"></i><i style="top:393px;left:152px;width:213px;background:linear-gradient(90deg,#00b1ff 0.5px,#03a7ff 44.5px,#11a4ff 52.5px,#37a2ff 61.5px,#789dff 75.5px,#b395fe 93.5px,#e286f7 113.5px,#f672e3 130.5px,#fe44b6 161.5px,#ff0f8d 197.5px,#ff047f 212.5px)"></i><i style="top:394px;left:152px;width:210px;background:linear-gradient(90deg,#00b0ff 0.5px,#03a5ff 44.5px,#12a3ff 52.5px,#38a0ff 61.5px,#799bff 75.5px,#b393fe 93.5px,#e284f7 113.5px,#f670e4 130.5px,#fe41b6 161.5px,#ff108f 195.5px,#ff0582 209.5px)"></i><i style="top:395px;left:153px;width:207px;background:linear-gradient(90deg,#00afff 0.5px,#03a4ff 42.5px,#10a2ff 50.5px,#2f9fff 58.5px,#769aff 73.5px,#ae92fe 90.5px,#de84f8 110.5px,#f570e7 127.5px,#fe48bf 154.5px,#ff1092 192.5px,#ff0584 206.5px)"></i><i style="top:396px;left:153px;width:205px;background:linear-gradient(90deg,#00adff 0.5px,#03a3ff 42.5px,#11a0ff 50.5px,#309eff 58.5px,#7798ff 73.5px,#b190fe 91.5px,#e081f7 111.5px,#f66de5 128.5px,#fe41bb 157.5px,#ff1094 190.5px,#ff0587 204.5px)"></i><i style="top:397px;left:153px;width:203px;background:linear-gradient(90deg,#00acff 0.5px,#03a1ff 42.5px,#119fff 50.5px,#379cff 59.5px,#7896ff 73.5px,#b18efe 91.5px,#e07ff7 111.5px,#f66be6 128.5px,#fe3ebb 157.5px,#ff1097 188.5px,#ff0589 202.5px)"></i><i style="top:398px;left:154px;width:200px;background:linear-gradient(90deg,#00abff 0.5px,#03a0ff 41.5px,#129dff 49.5px,#389aff 58.5px,#7895ff 72.5px,#b18cfe 90.5px,#e07df8 110.5px,#f568e6 127.5px,#fe3bbc 156.5px,#ff0f98 186.5px,#ff058b 199.5px)"></i><i style="top:399px;left:154px;width:198px;background:linear-gradient(90deg,#00a9ff 0.5px,#039fff 40.5px,#109cff 48.5px,#2f99ff 56.5px,#7593ff 71.5px,#af8bfe 89.5px,#e07bf8 110.5px,#f566e6 127.5px,#fe38bc 156.5px,#ff0f9b 184.5px,#ff058e 197.5px)"></i><i style="top:400px;left:154px;width:195px;background:linear-gradient(90deg,#00a8ff 0.5px,#039dff 40.5px,#119bff 48.5px,#3597ff 57.5px,#7692ff 71.5px,#af89fe 89.5px,#e079f8 110.5px,#f662e5 128.5px,#fe30b8 159.5px,#ff0d9b 184.5px,#ff0691 194.5px)"></i><i style="top:401px;left:155px;width:192px;background:linear-gradient(90deg,#00a7ff 0.5px,#039cff 39.5px,#1199ff 47.5px,#3696ff 56.5px,#7790ff 70.5px,#af87fe 88.5px,#e077f8 109.5px,#f660e5 127.5px,#fe2db9 158.5px,#ff0c9d 182.5px,#ff0693 191.5px)"></i><i style="top:402px;left:155px;width:190px;background:linear-gradient(90deg,#00a6ff 0.5px,#039aff 39.5px,#1297ff 47.5px,#3894ff 56.5px,#778eff 70.5px,#b085fe 88.5px,#e074f8 109.5px,#f65ee5 127.5px,#fe2ab9 158.5px,#ff0b9e 181.5px,#ff0696 189.5px)"></i><i style="top:403px;left:155px;width:188px;background:linear-gradient(90deg,#00a4ff 0.5px,#0399ff 38.5px,#1096ff 46.5px,#3493ff 55.5px,#748dff 69.5px,#ad84fe 87.5px,#de73f8 108.5px,#f55de6 126.5px,#fe2cbd 155.5px,#ff0ca2 178.5px,#ff0698 187.5px)"></i><i style="top:404px;left:156px;width:185px;background:linear-gradient(90deg,#00a3ff 0.5px,#0398ff 37.5px,#1195ff 45.5px,#3591ff 54.5px,#758bff 68.5px,#ad82fe 86.5px,#de71f8 107.5px,#f55ae7 125.5px,#fe29be 154.5px,#ff0ba3 176.5px,#ff069b 184.5px)"></i><i style="top:405px;left:156px;width:183px;background:linear-gradient(90deg,#00a2ff 0.5px,#0396ff 37.5px,#1193ff 45.5px,#3690ff 54.5px,#7689ff 68.5px,#ae80fe 86.5px,#de6ff8 107.5px,#f557e7 125.5px,#fe26be 154.5px,#ff0aa3 176.5px,#ff069d 182.5px)"></i><i style="top:406px;left:157px;width:179px;background:linear-gradient(90deg,#00a0ff 0.5px,#0395ff 36.5px,#1292ff 44.5px,#378eff 53.5px,#7688ff 67.5px,#b17dfe 86.5px,#e06bf8 107.5px,#f653e5 125.5px,#fe1eba 156.5px,#ff07a2 177.5px,#ff06a1 178.5px)"></i><i style="top:407px;left:157px;width:177px;background:linear-gradient(90deg,#009fff 0.5px,#0394ff 35.5px,#1091ff 43.5px,#348dff 52.5px,#7386ff 66.5px,#ac7cff 84.5px,#de6af8 106.5px,#f552e7 124.5px,#fe20bf 153.5px,#ff08a5 174.5px,#ff06a3 176.5px)"></i><i style="top:408px;left:157px;width:175px;background:linear-gradient(90deg,#009dff 0.5px,#0392ff 35.5px,#118fff 43.5px,#358bff 52.5px,#7485ff 66.5px,#ac7aff 84.5px,#de68f8 106.5px,#f54fe7 124.5px,#fe1dbf 153.5px,#ff07a7 173.5px,#ff06a6 174.5px)"></i><i style="top:409px;left:158px;width:172px;background:linear-gradient(90deg,#009cff 0.5px,#0391ff 34.5px,#128eff 42.5px,#368aff 51.5px,#7583ff 65.5px,#af78fe 84.5px,#e064f8 106.5px,#f64be6 124.5px,#fe16bb 155.5px,#ff06a8 171.5px)"></i><i style="top:410px;left:158px;width:170px;background:linear-gradient(90deg,#009bff 0.5px,#048fff 34.5px,#128cff 42.5px,#3788ff 51.5px,#7581ff 65.5px,#af76fe 84.5px,#e062f8 106.5px,#f548e6 124.5px,#fe14bc 155.5px,#ff07ab 169.5px)"></i><i style="top:411px;left:158px;width:168px;background:linear-gradient(90deg,#0099ff 0.5px,#038eff 33.5px,#108bff 41.5px,#3487ff 50.5px,#7280ff 64.5px,#aa75ff 82.5px,#de60f8 105.5px,#f546e7 123.5px,#fe15c0 152.5px,#ff07ae 167.5px)"></i><i style="top:412px;left:159px;width:164px;background:linear-gradient(90deg,#0098ff 0.5px,#038dff 32.5px,#1189ff 40.5px,#3585ff 49.5px,#737eff 63.5px,#ad72fe 82.5px,#de5ef8 104.5px,#f543e8 122.5px,#fe13c0 151.5px,#ff07b1 163.5px)"></i><i style="top:413px;left:159px;width:162px;background:linear-gradient(90deg,#0096ff 0.5px,#038bff 32.5px,#1288ff 40.5px,#3684ff 49.5px,#747cff 63.5px,#ad70fe 82.5px,#de5bf8 104.5px,#f53ee6 123.5px,#fe10c1 151.5px,#ff07b4 161.5px)"></i><i style="top:414px;left:160px;width:159px;background:linear-gradient(90deg,#0095ff 0.5px,#048aff 31.5px,#1286ff 39.5px,#3c81ff 49.5px,#757bff 62.5px,#ad6efe 81.5px,#e057f8 104.5px,#f639e5 123.5px,#fe0fc2 149.5px,#fe07b7 158.5px)"></i><i style="top:415px;left:160px;width:157px;background:linear-gradient(90deg,#0094ff 0.5px,#0488ff 31.5px,#1385ff 39.5px,#3d80ff 49.5px,#7579ff 62.5px,#b06bfe 82.5px,#e054f8 104.5px,#f636e5 123.5px,#fe0ec4 148.5px,#fe07ba 156.5px)"></i><i style="top:416px;left:160px;width:155px;background:linear-gradient(90deg,#0092ff 0.5px,#0387ff 30.5px,#1183ff 38.5px,#357fff 47.5px,#7278ff 61.5px,#ab6bff 80.5px,#de53f9 103.5px,#f534e7 122.5px,#fe0fc7 146.5px,#fe07bc 154.5px)"></i><i style="top:417px;left:161px;width:152px;background:linear-gradient(90deg,#0091ff 0.5px,#0386ff 29.5px,#1282ff 37.5px,#3b7dff 47.5px,#7376ff 60.5px,#ac69ff 79.5px,#de50f9 102.5px,#f531e7 121.5px,#fd0ec8 144.5px,#fe08bf 151.5px)"></i><i style="top:418px;left:161px;width:149px;background:linear-gradient(90deg,#008fff 0.5px,#0484ff 29.5px,#1280ff 37.5px,#3c7bff 47.5px,#7474ff 60.5px,#ac66ff 79.5px,#de4df9 102.5px,#f52de7 121.5px,#fd0dca 143.5px,#fe08c3 148.5px)"></i><i style="top:419px;left:162px;width:146px;background:linear-gradient(90deg,#008eff 0.5px,#0482ff 28.5px,#137fff 36.5px,#3d7aff 46.5px,#7472ff 59.5px,#af63fe 79.5px,#e049f8 102.5px,#f628e6 121.5px,#fd0bca 142.5px,#fe08c6 145.5px)"></i><i style="top:420px;left:162px;width:144px;background:linear-gradient(90deg,#008cff 0.5px,#0381ff 27.5px,#117eff 35.5px,#3479ff 44.5px,#7171ff 58.5px,#aa63ff 77.5px,#de47f9 101.5px,#f527e7 120.5px,#fd0acc 141.5px,#fd08c9 143.5px)"></i><i style="top:421px;left:162px;width:142px;background:linear-gradient(90deg,#008bff 0.5px,#0380ff 27.5px,#127cff 35.5px,#3a77ff 45.5px,#726fff 58.5px,#aa60ff 77.5px,#de44f9 101.5px,#f523e7 120.5px,#fd09cd 140.5px,#fd08cc 141.5px)"></i><i style="top:422px;left:163px;width:139px;background:linear-gradient(90deg,#0089ff 0.5px,#047eff 26.5px,#127aff 34.5px,#3c75ff 44.5px,#736dff 57.5px,#ad5dff 77.5px,#e03ff8 101.5px,#f51ee6 120.5px,#fd09cf 138.5px)"></i><i style="top:423px;left:163px;width:137px;background:linear-gradient(90deg,#0088ff 0.5px,#047dff 26.5px,#1379ff 34.5px,#4173ff 45.5px,#776aff 58.5px,#b259fe 79.5px,#e13af7 102.5px,#f61ae5 121.5px,#fc09d2 136.5px)"></i><i style="top:424px;left:164px;width:133px;background:linear-gradient(90deg,#0086ff 0.5px,#047bff 25.5px,#1477ff 33.5px,#4371ff 44.5px,#7868ff 57.5px,#b256fe 78.5px,#e136f7 101.5px,#f716e4 121.5px,#fb09d6 132.5px)"></i><i style="top:425px;left:164px;width:131px;background:linear-gradient(90deg,#0085ff 0.5px,#037aff 24.5px,#1276ff 32.5px,#3a70ff 42.5px,#7168ff 55.5px,#ab57ff 75.5px,#de36f9 99.5px,#f517e8 118.5px,#fb09d9 130.5px)"></i><i style="top:426px;left:165px;width:128px;background:linear-gradient(90deg,#0083ff 0.5px,#0479ff 23.5px,#1374ff 31.5px,#3b6fff 41.5px,#7266ff 54.5px,#ab54ff 74.5px,#de33f9 98.5px,#f513e7 118.5px,#fa0adc 127.5px)"></i><i style="top:427px;left:165px;width:126px;background:linear-gradient(90deg,#0082ff 0.5px,#0477ff 23.5px,#1373ff 31.5px,#416cff 42.5px,#7663ff 55.5px,#b04ffe 76.5px,#e12cf8 100.5px,#f70ee5 120.5px,#f90ade 125.5px)"></i><i style="top:428px;left:165px;width:124px;background:linear-gradient(90deg,#0080ff 0.5px,#0475ff 23.5px,#1471ff 31.5px,#476aff 43.5px,#7a60ff 56.5px,#b54afe 78.5px,#e327f7 101.5px,#f70be4 121.5px,#f80ae1 123.5px)"></i><i style="top:429px;left:166px;width:120px;background:linear-gradient(90deg,#007eff 0.5px,#0474ff 22.5px,#156fff 30.5px,#7161ff 52.5px,#aa4dff 72.5px,#de28f9 97.5px,#f50ce7 117.5px,#f60be5 119.5px)"></i><i style="top:430px;left:166px;width:118px;background:linear-gradient(90deg,#007dff 0.5px,#0473ff 21.5px,#136eff 29.5px,#4067ff 40.5px,#755eff 53.5px,#af48ff 74.5px,#df23f8 98.5px,#f50be7 117.5px)"></i><i style="top:431px;left:167px;width:115px;background:linear-gradient(90deg,#007bff 0.5px,#0471ff 20.5px,#136dff 28.5px,#4166ff 39.5px,#755cff 52.5px,#af45fe 73.5px,#df20f8 97.5px,#f40bea 114.5px)"></i><i style="top:432px;left:167px;width:113px;background:linear-gradient(90deg,#007aff 0.5px,#0470ff 20.5px,#146bff 28.5px,#4763ff 40.5px,#7958ff 53.5px,#b63efe 76.5px,#e21af7 99.5px,#f20bec 112.5px)"></i><i style="top:433px;left:168px;width:110px;background:linear-gradient(90deg,#0078ff 0.5px,#046eff 19.5px,#1569ff 27.5px,#7059ff 49.5px,#a843ff 69.5px,#dc1df9 94.5px,#f00bee 109.5px)"></i><i style="top:434px;left:168px;width:108px;background:linear-gradient(90deg,#0076ff 0.5px,#056cff 19.5px,#1667ff 27.5px,#7057ff 49.5px,#a840ff 69.5px,#dc1af9 94.5px,#ee0bf0 107.5px)"></i><i style="top:435px;left:169px;width:104px;background:linear-gradient(90deg,#0074ff 0.5px,#056bff 18.5px,#1766ff 26.5px,#6e55ff 47.5px,#a63eff 67.5px,#dc17f9 93.5px,#ea0cf3 103.5px)"></i><i style="top:436px;left:169px;width:102px;background:linear-gradient(90deg,#0073ff 0.5px,#0569ff 18.5px,#1764ff 26.5px,#6e53ff 47.5px,#a63bff 67.5px,#dc14f9 93.5px,#e80cf4 101.5px)"></i><i style="top:437px;left:170px;width:99px;background:linear-gradient(90deg,#0071ff 0.5px,#0667ff 17.5px,#1862ff 25.5px,#6f51ff 46.5px,#a738ff 66.5px,#dc12f9 92.5px,#e50bf6 98.5px)"></i><i style="top:438px;left:170px;width:97px;background:linear-gradient(90deg,#006fff 0.5px,#0566ff 16.5px,#1661ff 24.5px,#704eff 46.5px,#a933ff 67.5px,#de0ef9 93.5px,#e20bf7 96.5px)"></i><i style="top:439px;left:171px;width:94px;background:linear-gradient(90deg,#006dff 0.5px,#0564ff 15.5px,#175fff 23.5px,#6d4dff 44.5px,#a533ff 64.5px,#db0efa 90.5px,#df0bf8 93.5px)"></i><i style="top:440px;left:171px;width:92px;background:linear-gradient(90deg,#006cff 0.5px,#0563ff 15.5px,#185dff 23.5px,#6e4aff 44.5px,#a530ff 64.5px,#dc0bf9 91.5px)"></i><i style="top:441px;left:172px;width:88px;background:linear-gradient(90deg,#006aff 0.5px,#0661ff 14.5px,#185bff 22.5px,#6e48ff 43.5px,#a52dff 63.5px,#d70cfb 87.5px)"></i><i style="top:442px;left:172px;width:86px;background:linear-gradient(90deg,#0068ff 0.5px,#065fff 14.5px,#1959ff 22.5px,#6c46ff 42.5px,#a32bff 62.5px,#d40cfb 85.5px)"></i><i style="top:443px;left:173px;width:83px;background:linear-gradient(90deg,#0066ff 0.5px,#065dff 13.5px,#1a57ff 21.5px,#6c44ff 41.5px,#a428ff 61.5px,#d00cfc 82.5px)"></i><i style="top:444px;left:174px;width:80px;background:linear-gradient(90deg,#0063ff 0.5px,#075bff 12.5px,#1b55ff 20.5px,#6d41ff 40.5px,#a424ff 60.5px,#cc0cfd 79.5px)"></i><i style="top:445px;left:174px;width:78px;background:linear-gradient(90deg,#0062ff 0.5px,#075aff 12.5px,#1c53ff 20.5px,#6a3fff 39.5px,#a223ff 59.5px,#c90cfd 77.5px)"></i><i style="top:446px;left:175px;width:75px;background:linear-gradient(90deg,#005fff 0.5px,#0858ff 11.5px,#1d51ff 19.5px,#6b3cff 38.5px,#a220ff 58.5px,#c50cfd 74.5px)"></i><i style="top:447px;left:176px;width:71px;background:linear-gradient(90deg,#015dff 0.5px,#0a55ff 11.5px,#224eff 19.5px,#683bff 36.5px,#9d1fff 55.5px,#bf0dfe 70.5px)"></i><i style="top:448px;left:176px;width:69px;background:linear-gradient(90deg,#015bff 0.5px,#0a53ff 11.5px,#234cff 19.5px,#6938ff 36.5px,#9e1cff 55.5px,#bb0dfe 68.5px)"></i><i style="top:449px;left:177px;width:66px;background:linear-gradient(90deg,#0159ff 0.5px,#0b51ff 10.5px,#2449ff 18.5px,#6a35ff 35.5px,#a018ff 55.5px,#b70dfe 65.5px)"></i><i style="top:450px;left:178px;width:63px;background:linear-gradient(90deg,#0156ff 0.5px,#0b4fff 9.5px,#2946ff 18.5px,#6a32ff 34.5px,#a115ff 54.5px,#b30dfe 62.5px)"></i><i style="top:451px;left:178px;width:61px;background:linear-gradient(90deg,#0154ff 0.5px,#0c4dff 9.5px,#2a43ff 18.5px,#6830ff 33.5px,#9c15ff 52.5px,#af0dff 60.5px)"></i><i style="top:452px;left:179px;width:58px;background:linear-gradient(90deg,#0251ff 0.5px,#0f49ff 9.5px,#343eff 19.5px,#6c2cff 33.5px,#a40fff 54.5px,#aa0cff 57.5px)"></i><i style="top:453px;left:180px;width:54px;background:linear-gradient(90deg,#034fff 0.5px,#1246ff 9.5px,#4238ff 21.5px,#7326ff 34.5px,#a40dff 53.5px)"></i><i style="top:454px;left:181px;width:51px;background:linear-gradient(90deg,#044cff 0.5px,#1344ff 8.5px,#4c32ff 22.5px,#7c1eff 36.5px,#9f0dff 50.5px)"></i><i style="top:455px;left:182px;width:48px;background:linear-gradient(90deg,#0548ff 0.5px,#1740ff 8.5px,#6a24ff 29.5px,#9b0dff 47.5px)"></i><i style="top:456px;left:182px;width:46px;background:linear-gradient(90deg,#0646ff 0.5px,#183dff 8.5px,#6b21ff 29.5px,#970dff 45.5px)"></i><i style="top:457px;left:183px;width:43px;background:linear-gradient(90deg,#0743ff 0.5px,#1c39ff 8.5px,#681fff 27.5px,#920dff 42.5px)"></i><i style="top:458px;left:184px;width:40px;background:linear-gradient(90deg,#0a3fff 0.5px,#2135ff 8.5px,#661eff 25.5px,#8e0dff 39.5px)"></i><i style="top:459px;left:185px;width:36px;background:linear-gradient(90deg,#0c3bff 0.5px,#2a30ff 9.5px,#661bff 24.5px,#860eff 35.5px)"></i><i style="top:460px;left:187px;width:32px;background:linear-gradient(90deg,#1236ff 0.5px,#4126ff 12.5px,#7114ff 25.5px,#820eff 31.5px)"></i><i style="top:461px;left:188px;width:29px;background:linear-gradient(90deg,#1532ff 0.5px,#6b14ff 22.5px,#7d0eff 28.5px)"></i><i style="top:462px;left:189px;width:26px;background:linear-gradient(90deg,#1a2eff 0.5px,#6813ff 20.5px,#780eff 25.5px)"></i><i style="top:463px;left:190px;width:23px;background:linear-gradient(90deg,#1e29ff 0.5px,#6612ff 18.5px,#720eff 22.5px)"></i><i style="top:464px;left:191px;width:20px;background:linear-gradient(90deg,#2325ff 0.5px,#6710ff 17.5px,#6d0eff 19.5px)"></i><i style="top:465px;left:192px;width:16px;background:linear-gradient(90deg,#2821ff 0.5px,#640eff 15.5px)"></i><i style="top:466px;left:193px;width:13px;background:linear-gradient(90deg,#2d1dff 0.5px,#5e0eff 12.5px)"></i><i style="top:467px;left:194px;width:10px;background:linear-gradient(90deg,#3219ff 0.5px,#570eff 9.5px)"></i><i style="top:468px;left:196px;width:6px;background:linear-gradient(90deg,#3c14ff 0.5px,#510eff 5.5px)"></i></div>
<svg width="600" height="521"><path class="sl" d="M198.9 468.71 L198.89 468.71 L198.88 468.7 L198.88 468.7 L198.87 468.7 L198.85 468.7 L198.83 468.71 L198.81 468.72 L198.79 468.73 L198.77 468.73 L198.75 468.73 L198.72 468.73 L198.7 468.72 L198.67 468.72 L198.65 468.72 L198.63 468.73 L198.6 468.74 L198.58 468.76 L198.56 468.77 L198.54 468.78 L198.52 468.79 L198.49 468.8 L198.47 468.8 L198.43 468.8 L198.4 468.8 L198.36 468.8 L198.31 468.8 L198.27 468.8 L198.22 468.79 L198.18 468.79 L198.13 468.79 L198.09 468.79 L198.04 468.79 L197.99 468.79 L197.94 468.78 L197.89 468.77 L197.84 468.76 L197.78 468.75 L197.71 468.72 L197.64 468.68 L197.55 468.64 L197.45 468.58 L197.34 468.52 L197.23 468.45 L197.11 468.38 L196.99 468.29 L196.87 468.2 L196.73 468.1 L196.59 467.99 L196.44 467.87 L196.28 467.74 L196.1 467.59 L195.91 467.44 L195.71 467.27 L195.5 467.1 L195.28 466.91 L195.06 466.7 L194.82 466.48 L194.57 466.25 L194.31 466 L194.03 465.75 L193.74 465.48 L193.43 465.21 L193.1 464.91 L192.75 464.61 L192.37 464.28 L191.98 463.93 L191.55 463.55 L191.1 463.16 L190.63 462.75 L190.13 462.31 L189.61 461.86 L189.07 461.38 L188.51 460.88 L187.91 460.35 L187.29 459.78 L186.64 459.18 L185.97 458.53 L185.26 457.83 L184.53 457.08 L183.77 456.29 L182.99 455.44 L182.18 454.53 L181.34 453.53 L180.46 452.42 L179.52 451.18 L178.52 449.77 L177.45 448.17 L176.3 446.38 L175.08 444.38 L173.81 442.18 L172.48 439.78 L171.09 437.15 L169.64 434.26 L168.11 431.09 L166.52 427.61 L164.84 423.77 L163.09 419.56 L161.26 414.97 L159.34 409.98 L157.33 404.58 L155.22 398.75 L153.01 392.45 L150.71 385.65 L148.37 378.31 L145.99 370.44 L143.62 362.03 L141.28 353.1 L138.94 343.64 L136.62 333.65 L134.29 323.12 L131.96 312.08 L129.67 300.57 L127.44 288.67 L125.3 276.46 L123.28 264.02 L121.39 251.45 L119.67 238.8 L118.12 226.12 L116.76 213.47 L115.6 200.91 L114.65 188.54 L113.95 176.47 L113.5 164.76 L113.33 153.43 L113.44 142.48 L113.83 131.9 L114.52 121.75 L115.51 112.1 L116.82 103.03 L118.46 94.61 L120.42 86.86 L122.67 79.83 L125.19 73.56 L127.98 68.13 L131 63.57 L134.25 59.87 L137.69 56.97 L141.28 54.83 L144.99 53.4 L148.8 52.63 L152.69 52.49 L156.65 52.89 L160.67 53.74 L164.72 54.95 L168.81 56.44 L172.92 58.17 L177.03 60.1 L181.13 62.18 L185.18 64.38 L189.17 66.66 L193.09 68.98 L196.96 71.35 L200.78 73.77 L204.57 76.26 L208.32 78.82 L212.06 81.45 L215.76 84.13 L219.44 86.87 L223.11 89.67 L226.77 92.53 L230.42 95.44 L234.05 98.41 L237.68 101.42 L241.31 104.49 L244.92 107.59 L248.52 110.73 L252.12 113.91 L255.72 117.13 L259.31 120.38 L262.91 123.66 L266.5 126.97 L270.09 130.31 L273.68 133.67 L277.27 137.05 L280.86 140.46 L284.45 143.88 L288.04 147.32 L291.62 150.78 L295.21 154.25 L298.8 157.73 L302.38 161.21 L305.96 164.71 L309.54 168.21 L313.12 171.71 L316.69 175.22 L320.25 178.73 L323.81 182.23 L327.35 185.74 L330.89 189.24 L334.42 192.73 L337.93 196.22 L341.44 199.7 L344.92 203.17 L348.39 206.62 L351.84 210.06 L355.28 213.48 L358.69 216.88 L362.07 220.26 L365.43 223.61 L368.77 226.93 L372.07 230.23 L375.35 233.49 L378.6 236.72 L381.81 239.92 L384.98 243.07 L388.12 246.19 L391.21 249.27 L394.26 252.3 L397.27 255.29 L400.23 258.24 L403.14 261.14 L406 264 L408.8 266.79 L411.52 269.52 L414.17 272.16 L416.73 274.71 L419.21 277.18 L421.62 279.58 L423.97 281.92 L426.27 284.21 L428.52 286.45 L430.72 288.64 L432.86 290.77 L434.93 292.82 L436.91 294.8 L438.82 296.69 L440.65 298.5 L442.4 300.24 L444.09 301.92 L445.71 303.53 L447.27 305.08 L448.77 306.57 L450.21 308 L451.58 309.37 L452.9 310.69 L454.16 311.94 L455.36 313.14 L456.5 314.28 L457.59 315.37 L458.63 316.41 L459.63 317.4 L460.59 318.35 L461.5 319.26 L462.37 320.12 L463.2 320.95 L464 321.74 L464.76 322.5 L465.49 323.23 L466.19 323.93 L466.87 324.6 L467.53 325.26 L468.17 325.89 L468.79 326.51 L469.38 327.1 L469.94 327.66 L470.49 328.21 L471.01 328.73 L471.51 329.23 L471.99 329.71 L472.45 330.17 L472.9 330.61 L473.32 331.03 L473.72 331.43 L474.1 331.81 L474.46 332.17 L474.8 332.51 L475.11 332.82 L475.41 333.11 L475.68 333.39 L475.95 333.65 L476.2 333.9 L476.44 334.14 L476.67 334.37 L476.89 334.59 L477.09 334.79 L477.29 334.99 L477.47 335.17 L477.64 335.34 L477.8 335.5 L477.94 335.64 L478.08 335.78 L478.2 335.9 L478.31 336.01 L478.41 336.11 L478.51 336.21 L478.6 336.3 L478.7 336.4 L478.79 336.49 L478.88 336.58 L478.96 336.66 L479.04 336.74 L479.11 336.81 L479.19 336.89 L479.26 336.96 L479.32 337.02 L479.4 337.1 L479.47 337.17 L479.54 337.24 L479.61 337.31 L479.68 337.38 L479.74 337.44 L479.81 337.51 L479.87 337.57 L479.94 337.64 L479.99 337.69 L480.04 337.74 L480.08 337.78 L480.11 337.81 L480.14 337.84 L480.16 337.86 L480.19 337.89 L480.21 337.91 L480.23 337.93 L480.25 337.95 L480.27 337.97 L480.28 337.98 L480.29 337.99 L480.31 338.01 L480.31 338.01 L480.6 338.9"/><path class="sl pu" d="M480.6 338.9L198.9 468.71"/><path class="tk" d="M198.9 468.71L200.9 475.42M198.75 468.73L198.33 475.72M198.52 468.79L200.58 475.48M198.13 468.79L198.19 475.79M197.55 468.64L194.28 474.83M196.28 467.74L191.89 473.19M194.03 465.75L189.32 470.92M190.13 462.31L185.53 467.58M183.77 456.29L178.65 461.06M179.52 451.18L176.29 453.53M173.81 442.18L167.71 445.63M166.52 427.61L162.86 429.23M157.33 404.58L150.76 406.99M145.99 370.44L142.15 371.55M134.29 323.12L127.44 324.6M123.28 264.02L119.32 264.64M115.6 200.91L108.62 201.5M113.44 142.48L109.44 142.38M118.46 94.61L111.63 93.09M131 63.57L127.81 61.16M148.8 52.63L147.92 45.69M168.81 56.44L170.26 52.72M189.17 66.66L192.68 60.6M208.32 78.82L210.6 75.53M226.77 92.53L231.11 87.03M244.92 107.59L247.54 104.56M262.91 123.66L267.64 118.5M280.86 140.46L283.61 137.56M298.8 157.73L303.67 152.7M316.69 175.22L319.49 172.37M334.42 192.73L339.35 187.76M351.84 210.06L354.67 207.22M368.77 226.93L373.71 221.97M384.98 243.07L387.8 240.24M400.23 258.24L405.17 253.28M414.17 272.16L417 269.33M426.27 284.21L431.21 279.25M436.91 294.8L439.73 291.96M445.71 303.53L450.65 298.56M452.9 310.69L455.73 307.86M458.63 316.41L463.58 311.45M466.87 324.6L471.82 319.64M472.45 330.17L477.4 325.22M475.95 333.65L480.89 328.69M477.94 335.64L482.89 330.69M478.96 336.66L483.91 331.71M479.68 337.38L484.63 332.43M480.16 337.86L485.11 332.91M480.31 338.01L485.26 333.06"/><path class="pl" d="M439.17 298.27 L437.08 296.43 L434.94 294.58 L432.75 292.73 L430.51 290.88 L428.21 289.03 L425.87 287.2 L423.48 285.38 L421.03 283.59 L418.54 281.83 L415.99 280.1 L413.39 278.42 L410.74 276.8 L408.04 275.22 L405.28 273.72 L402.48 272.29 L399.62 270.93 L396.72 269.66 L393.77 268.48 L390.77 267.4 L387.73 266.42 L384.65 265.55 L381.53 264.79 L378.38 264.15 L375.19 263.62 L371.98 263.21 L368.75 262.93 L365.49 262.77 L362.22 262.73 L358.95 262.82 L355.66 263.03 L352.38 263.35 L349.11 263.8 L345.85 264.36 L342.6 265.02 L339.38 265.79 L336.18 266.67 L333.01 267.63 L329.88 268.69 L326.79 269.83 L323.75 271.04 L320.75 272.33 L317.8 273.68 L314.91 275.09 L312.08 276.55 L309.3 278.05 L306.59 279.6 L303.94 281.17 L301.36 282.78 L298.85 284.4 L296.4 286.04 L294.02 287.7 L291.71 289.36 L289.47 291.02 L287.3 292.68 L285.19 294.33 L283.16 295.97 L281.19 297.6 L279.29 299.22 L277.45 300.81 L275.68 302.38 L273.97 303.93 L272.33 305.46 L270.74 306.95 L269.22 308.42 L267.75 309.86 L266.34 311.26 L264.98 312.63 L263.68 313.97 L262.43 315.28 L261.22 316.55 L260.07 317.79 L258.96 318.99 L257.9 320.16 L256.88 321.3 L255.9 322.4 L254.97 323.47 L254.07 324.51 L253.2 325.51 L252.38 326.48 L225.3 356.2"/><path class="pl" d="M220.4 352.1L230.4 361.25"/><path class="pl" d="M236.5 299.2L265.2 349M271.6 274.2L274.7 331.2M309.2 255.2L295.25 309.1M339.5 249.5L320.75 290.75M364.2 241.25L338 283.25M386.2 249.2L364 277.2M410.7 270.2L400.2 277.2"/><path class="pl" d="M252.98 316.84L258.09 328.79M257.68 312.02L261.69 324.39M263.99 305.94L266.61 318.68M278.41 296.5L278.36 303.5M285.32 288.22L284.16 301.17M293.23 285.25L292.01 292.15M316.19 271.78L313.74 278.34"/><text class="ax" x="106" y="477" text-anchor="end">0.0</text><text class="ax" x="106" y="426.8" text-anchor="end">0.1</text><text class="ax" x="106" y="376.6" text-anchor="end">0.2</text><text class="ax" x="106" y="326.4" text-anchor="end">0.3</text><text class="ax" x="106" y="276.2" text-anchor="end">0.4</text><text class="ax" x="106" y="226" text-anchor="end">0.5</text><text class="ax" x="106" y="175.8" text-anchor="end">0.6</text><text class="ax" x="106" y="125.6" text-anchor="end">0.7</text><text class="ax" x="106" y="75.4" text-anchor="end">0.8</text><text class="ax" x="106" y="25.2" text-anchor="end">0.9</text><text class="ax" x="111.5" y="490.1" text-anchor="middle">0.0</text><text class="ax" x="161.7" y="490.1" text-anchor="middle">0.1</text><text class="ax" x="211.9" y="490.1" text-anchor="middle">0.2</text><text class="ax" x="262.1" y="490.1" text-anchor="middle">0.3</text><text class="ax" x="312.3" y="490.1" text-anchor="middle">0.4</text><text class="ax" x="362.5" y="490.1" text-anchor="middle">0.5</text><text class="ax" x="412.7" y="490.1" text-anchor="middle">0.6</text><text class="ax" x="462.9" y="490.1" text-anchor="middle">0.7</text><text class="ax" x="513.1" y="490.1" text-anchor="middle">0.8</text><text class="ax lab" x="312.3" y="506" text-anchor="middle">x</text><text class="ax lab" x="82.5" y="248" text-anchor="middle">y</text><text class="wl" transform="translate(147.75 41.9) scale(0.96 1)" text-anchor="middle">520</text><text class="wl" transform="translate(241.6 84) scale(0.96 1)" text-anchor="middle">540</text><text class="wl" transform="translate(314.7 148.3) scale(0.96 1)" text-anchor="middle">560</text><text class="wl" transform="translate(384.85 219.4) scale(0.96 1)" text-anchor="middle">580</text><text class="wl" transform="translate(443 276.8) scale(0.96 1)" text-anchor="middle">600</text><text class="wl" transform="translate(474.95 308.6) scale(0.96 1)" text-anchor="middle">620</text><text class="wl" transform="translate(500.4 343.1) scale(0.96 1)" text-anchor="middle">700</text><text class="wl" transform="translate(94.15 206.7) scale(0.96 1)" text-anchor="middle">500</text><text class="wl" transform="translate(123.35 338) scale(0.96 1)" text-anchor="middle">490</text><text class="wl" transform="translate(136.55 413) scale(0.96 1)" text-anchor="middle">480</text><text class="wl" transform="translate(153.75 451) scale(0.96 1)" text-anchor="middle">470</text><text class="wl" transform="translate(163.5 469.8) scale(0.96 1)" text-anchor="middle">460</text><text class="wl" transform="translate(217.25 475.8) scale(0.96 1)" text-anchor="middle">380</text><text class="il" x="219" y="299.5" text-anchor="middle">10000</text><text class="il" x="270.15" y="268.1" text-anchor="middle">6000</text><text class="il" x="305.52" y="251" text-anchor="middle">4000</text><text class="il" x="335.15" y="244.5" text-anchor="middle">3000</text><text class="il" x="362" y="241.25" text-anchor="middle">2500</text><text class="il" x="367.25" y="289.7" text-anchor="middle">2000</text><text class="il" x="401.35" y="290" text-anchor="middle">1500</text><text class="tc" x="232" y="241">T<tspan class="sub" dy="3">C</tspan><tspan dy="-3">(K)</tspan></text><text class="inf" transform="translate(213.3 350.3) scale(1.08 0.8)" text-anchor="middle">&#8734;</text></svg>
</body></html>
